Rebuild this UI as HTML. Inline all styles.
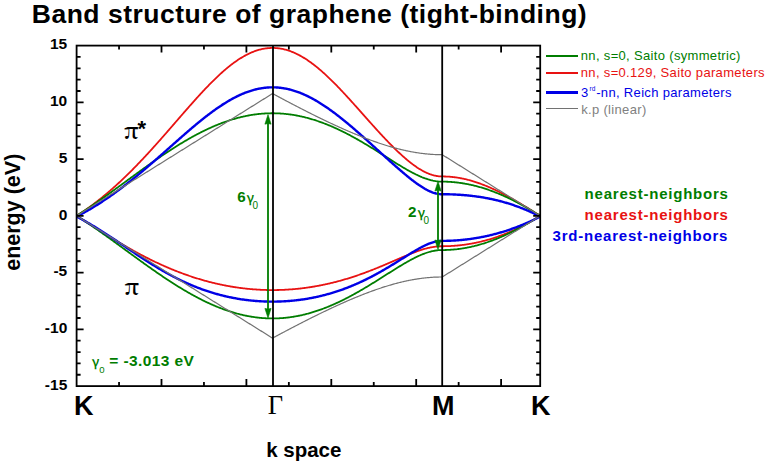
<!DOCTYPE html>
<html><head><meta charset="utf-8"><title>Band structure of graphene</title>
<style>html,body{margin:0;padding:0;background:#fff;width:769px;height:466px;overflow:hidden}svg{display:block}</style>
</head><body>
<svg width="769" height="466" viewBox="0 0 769 466">
<rect width="769" height="466" fill="#fff"/>
<text x="31.8" y="22.8" font-family="Liberation Sans, Arial, sans-serif" font-weight="bold" font-size="26.5" letter-spacing="0.5">Band structure of graphene (tight-binding)</text>
<g fill="none" stroke-linejoin="round">
<path d="M76.60,215.85 L77.37,215.36 L78.15,214.86 L78.92,214.36 L79.70,213.85 L80.47,213.34 L81.25,212.82 L82.02,212.30 L82.80,211.78 L83.57,211.25 L84.34,210.72 L85.12,210.19 L85.89,209.65 L86.67,209.10 L87.44,208.55 L88.22,208.00 L88.99,207.44 L89.77,206.88 L90.54,206.32 L91.31,205.75 L92.09,205.17 L92.86,204.60 L93.64,204.01 L94.41,203.43 L95.19,202.84 L95.96,202.24 L96.74,201.65 L97.51,201.04 L98.29,200.44 L99.06,199.83 L99.83,199.21 L100.61,198.59 L101.38,197.97 L102.16,197.34 L102.93,196.71 L103.71,196.07 L104.48,195.43 L105.26,194.79 L106.03,194.14 L106.80,193.49 L107.58,192.83 L108.35,192.17 L109.13,191.51 L109.90,190.84 L110.68,190.17 L111.45,189.49 L112.23,188.81 L113.00,188.13 L113.77,187.44 L114.55,186.74 L115.32,186.05 L116.10,185.35 L116.87,184.64 L117.65,183.94 L118.42,183.22 L119.20,182.51 L119.97,181.79 L120.74,181.06 L121.52,180.34 L122.29,179.61 L123.07,178.87 L123.84,178.13 L124.62,177.39 L125.39,176.64 L126.17,175.89 L126.94,175.14 L127.71,174.38 L128.49,173.62 L129.26,172.86 L130.04,172.09 L130.81,171.32 L131.59,170.55 L132.36,169.77 L133.14,168.99 L133.91,168.20 L134.69,167.41 L135.46,166.62 L136.23,165.83 L137.01,165.03 L137.78,164.23 L138.56,163.42 L139.33,162.61 L140.11,161.80 L140.88,160.99 L141.66,160.17 L142.43,159.35 L143.20,158.53 L143.98,157.70 L144.75,156.87 L145.53,156.04 L146.30,155.21 L147.08,154.37 L147.85,153.53 L148.63,152.69 L149.40,151.84 L150.17,151.00 L150.95,150.15 L151.72,149.29 L152.50,148.44 L153.27,147.58 L154.05,146.72 L154.82,145.86 L155.60,145.00 L156.37,144.13 L157.14,143.26 L157.92,142.40 L158.69,141.52 L159.47,140.65 L160.24,139.78 L161.02,138.90 L161.79,138.02 L162.57,137.14 L163.34,136.26 L164.11,135.38 L164.89,134.49 L165.66,133.61 L166.44,132.72 L167.21,131.84 L167.99,130.95 L168.76,130.06 L169.54,129.17 L170.31,128.28 L171.09,127.39 L171.86,126.49 L172.63,125.60 L173.41,124.71 L174.18,123.81 L174.96,122.92 L175.73,122.03 L176.51,121.13 L177.28,120.24 L178.06,119.35 L178.83,118.45 L179.60,117.56 L180.38,116.67 L181.15,115.78 L181.93,114.88 L182.70,113.99 L183.48,113.10 L184.25,112.21 L185.03,111.33 L185.80,110.44 L186.57,109.55 L187.35,108.67 L188.12,107.79 L188.90,106.91 L189.67,106.03 L190.45,105.15 L191.22,104.28 L192.00,103.40 L192.77,102.53 L193.54,101.66 L194.32,100.80 L195.09,99.93 L195.87,99.07 L196.64,98.21 L197.42,97.36 L198.19,96.51 L198.97,95.66 L199.74,94.81 L200.51,93.97 L201.29,93.13 L202.06,92.29 L202.84,91.46 L203.61,90.63 L204.39,89.81 L205.16,88.99 L205.94,88.18 L206.71,87.37 L207.49,86.56 L208.26,85.76 L209.03,84.96 L209.81,84.17 L210.58,83.38 L211.36,82.60 L212.13,81.83 L212.91,81.06 L213.68,80.29 L214.46,79.53 L215.23,78.78 L216.00,78.03 L216.78,77.29 L217.55,76.56 L218.33,75.83 L219.10,75.11 L219.88,74.39 L220.65,73.68 L221.43,72.98 L222.20,72.29 L222.97,71.60 L223.75,70.92 L224.52,70.25 L225.30,69.59 L226.07,68.93 L226.85,68.28 L227.62,67.64 L228.40,67.01 L229.17,66.39 L229.94,65.77 L230.72,65.16 L231.49,64.57 L232.27,63.98 L233.04,63.40 L233.82,62.82 L234.59,62.26 L235.37,61.71 L236.14,61.17 L236.91,60.63 L237.69,60.11 L238.46,59.59 L239.24,59.09 L240.01,58.59 L240.79,58.11 L241.56,57.63 L242.34,57.17 L243.11,56.71 L243.89,56.27 L244.66,55.84 L245.43,55.41 L246.21,55.00 L246.98,54.60 L247.76,54.21 L248.53,53.83 L249.31,53.46 L250.08,53.11 L250.86,52.76 L251.63,52.43 L252.40,52.11 L253.18,51.80 L253.95,51.50 L254.73,51.21 L255.50,50.93 L256.28,50.67 L257.05,50.42 L257.83,50.18 L258.60,49.95 L259.37,49.73 L260.15,49.53 L260.92,49.33 L261.70,49.15 L262.47,48.99 L263.25,48.83 L264.02,48.69 L264.80,48.56 L265.57,48.44 L266.34,48.33 L267.12,48.24 L267.89,48.16 L268.67,48.09 L269.44,48.03 L270.22,47.99 L270.99,47.96 L271.77,47.94 L272.54,47.93 L273.32,47.94 L274.09,47.96 L274.86,47.99 L275.64,48.03 L276.41,48.09 L277.19,48.16 L277.96,48.24 L278.74,48.33 L279.51,48.44 L280.29,48.56 L281.06,48.69 L281.84,48.83 L282.61,48.99 L283.39,49.16 L284.16,49.34 L284.94,49.53 L285.71,49.73 L286.49,49.95 L287.26,50.18 L288.04,50.42 L288.81,50.67 L289.59,50.94 L290.36,51.21 L291.14,51.50 L291.91,51.80 L292.69,52.11 L293.46,52.43 L294.24,52.77 L295.01,53.11 L295.79,53.47 L296.56,53.84 L297.34,54.22 L298.11,54.61 L298.88,55.01 L299.66,55.42 L300.43,55.84 L301.21,56.28 L301.98,56.72 L302.76,57.18 L303.53,57.64 L304.31,58.12 L305.08,58.60 L305.86,59.10 L306.63,59.60 L307.41,60.12 L308.18,60.64 L308.96,61.18 L309.73,61.72 L310.51,62.27 L311.28,62.84 L312.06,63.41 L312.83,63.99 L313.61,64.58 L314.38,65.18 L315.16,65.78 L315.93,66.40 L316.71,67.02 L317.48,67.65 L318.26,68.30 L319.03,68.94 L319.81,69.60 L320.58,70.26 L321.36,70.93 L322.13,71.61 L322.90,72.30 L323.68,72.99 L324.45,73.69 L325.23,74.40 L326.00,75.11 L326.78,75.83 L327.55,76.56 L328.33,77.30 L329.10,78.03 L329.88,78.78 L330.65,79.53 L331.43,80.29 L332.20,81.05 L332.98,81.82 L333.75,82.59 L334.53,83.37 L335.30,84.16 L336.08,84.95 L336.85,85.74 L337.63,86.54 L338.40,87.34 L339.18,88.15 L339.95,88.96 L340.73,89.78 L341.50,90.60 L342.28,91.42 L343.05,92.25 L343.83,93.08 L344.60,93.91 L345.38,94.75 L346.15,95.59 L346.92,96.43 L347.70,97.28 L348.47,98.12 L349.25,98.97 L350.02,99.83 L350.80,100.68 L351.57,101.54 L352.35,102.40 L353.12,103.26 L353.90,104.12 L354.67,104.99 L355.45,105.86 L356.22,106.72 L357.00,107.59 L357.77,108.46 L358.55,109.33 L359.32,110.20 L360.10,111.07 L360.87,111.95 L361.65,112.82 L362.42,113.69 L363.20,114.56 L363.97,115.44 L364.75,116.31 L365.52,117.18 L366.30,118.05 L367.07,118.93 L367.85,119.80 L368.62,120.67 L369.40,121.53 L370.17,122.40 L370.94,123.27 L371.72,124.13 L372.49,125.00 L373.27,125.86 L374.04,126.72 L374.82,127.58 L375.59,128.43 L376.37,129.29 L377.14,130.14 L377.92,130.99 L378.69,131.84 L379.47,132.68 L380.24,133.52 L381.02,134.36 L381.79,135.20 L382.57,136.03 L383.34,136.86 L384.12,137.68 L384.89,138.50 L385.67,139.32 L386.44,140.14 L387.22,140.95 L387.99,141.75 L388.77,142.55 L389.54,143.35 L390.32,144.14 L391.09,144.93 L391.87,145.72 L392.64,146.49 L393.42,147.27 L394.19,148.03 L394.96,148.80 L395.74,149.55 L396.51,150.30 L397.29,151.05 L398.06,151.78 L398.84,152.52 L399.61,153.24 L400.39,153.96 L401.16,154.67 L401.94,155.37 L402.71,156.07 L403.49,156.76 L404.26,157.44 L405.04,158.12 L405.81,158.78 L406.59,159.44 L407.36,160.09 L408.14,160.73 L408.91,161.36 L409.69,161.99 L410.46,162.60 L411.24,163.20 L412.01,163.80 L412.79,164.38 L413.56,164.95 L414.34,165.52 L415.11,166.07 L415.89,166.61 L416.66,167.14 L417.43,167.66 L418.21,168.16 L418.98,168.65 L419.76,169.14 L420.53,169.60 L421.31,170.06 L422.08,170.50 L422.86,170.93 L423.63,171.34 L424.41,171.74 L425.18,172.13 L425.96,172.50 L426.73,172.86 L427.51,173.20 L428.28,173.52 L429.06,173.83 L429.83,174.13 L430.61,174.40 L431.38,174.66 L432.16,174.91 L432.93,175.13 L433.71,175.34 L434.48,175.53 L435.26,175.71 L436.03,175.87 L436.81,176.00 L437.58,176.12 L438.36,176.23 L439.13,176.31 L439.91,176.37 L440.68,176.42 L441.45,176.45 L442.23,176.46 L443.01,176.46 L443.78,176.47 L444.56,176.49 L445.34,176.51 L446.12,176.54 L446.90,176.57 L447.67,176.61 L448.45,176.66 L449.23,176.71 L450.01,176.77 L450.78,176.83 L451.56,176.91 L452.34,176.98 L453.12,177.07 L453.89,177.16 L454.67,177.25 L455.45,177.36 L456.23,177.46 L457.00,177.58 L457.78,177.70 L458.56,177.83 L459.34,177.96 L460.11,178.10 L460.89,178.24 L461.67,178.39 L462.45,178.55 L463.22,178.71 L464.00,178.88 L464.78,179.05 L465.56,179.23 L466.33,179.41 L467.11,179.60 L467.89,179.80 L468.67,180.00 L469.44,180.21 L470.22,180.42 L471.00,180.64 L471.78,180.87 L472.55,181.10 L473.33,181.33 L474.11,181.57 L474.89,181.82 L475.66,182.07 L476.44,182.32 L477.22,182.58 L478.00,182.85 L478.77,183.12 L479.55,183.40 L480.33,183.68 L481.11,183.97 L481.88,184.26 L482.66,184.55 L483.44,184.85 L484.22,185.16 L484.99,185.47 L485.77,185.78 L486.55,186.10 L487.33,186.43 L488.10,186.76 L488.88,187.09 L489.66,187.43 L490.44,187.77 L491.21,188.11 L491.99,188.46 L492.77,188.82 L493.55,189.18 L494.33,189.54 L495.10,189.90 L495.88,190.27 L496.66,190.65 L497.44,191.02 L498.21,191.41 L498.99,191.79 L499.77,192.18 L500.55,192.57 L501.32,192.97 L502.10,193.37 L502.88,193.77 L503.66,194.17 L504.43,194.58 L505.21,194.99 L505.99,195.41 L506.77,195.83 L507.54,196.25 L508.32,196.67 L509.10,197.10 L509.88,197.53 L510.65,197.96 L511.43,198.40 L512.21,198.83 L512.99,199.27 L513.76,199.72 L514.54,200.16 L515.32,200.61 L516.10,201.06 L516.87,201.51 L517.65,201.97 L518.43,202.42 L519.21,202.88 L519.98,203.34 L520.76,203.81 L521.54,204.27 L522.32,204.74 L523.09,205.21 L523.87,205.68 L524.65,206.15 L525.43,206.62 L526.20,207.10 L526.98,207.57 L527.76,208.05 L528.54,208.53 L529.31,209.01 L530.09,209.49 L530.87,209.98 L531.65,210.46 L532.42,210.95 L533.20,211.43 L533.98,211.92 L534.76,212.41 L535.53,212.90 L536.31,213.39 L537.09,213.88 L537.87,214.37 L538.64,214.86 L539.42,215.36 L540.20,215.85 L540.20,215.85" stroke="#e81212" stroke-width="1.8"/>
<path d="M76.60,215.85 L77.37,216.34 L78.15,216.83 L78.92,217.33 L79.70,217.82 L80.47,218.32 L81.25,218.81 L82.02,219.30 L82.80,219.80 L83.57,220.29 L84.34,220.79 L85.12,221.28 L85.89,221.78 L86.67,222.27 L87.44,222.77 L88.22,223.26 L88.99,223.76 L89.77,224.25 L90.54,224.75 L91.31,225.24 L92.09,225.73 L92.86,226.23 L93.64,226.72 L94.41,227.21 L95.19,227.70 L95.96,228.19 L96.74,228.68 L97.51,229.17 L98.29,229.66 L99.06,230.15 L99.83,230.64 L100.61,231.13 L101.38,231.61 L102.16,232.10 L102.93,232.58 L103.71,233.07 L104.48,233.55 L105.26,234.03 L106.03,234.51 L106.80,234.99 L107.58,235.47 L108.35,235.95 L109.13,236.43 L109.90,236.90 L110.68,237.38 L111.45,237.85 L112.23,238.32 L113.00,238.79 L113.77,239.26 L114.55,239.73 L115.32,240.20 L116.10,240.66 L116.87,241.13 L117.65,241.59 L118.42,242.05 L119.20,242.51 L119.97,242.97 L120.74,243.42 L121.52,243.88 L122.29,244.33 L123.07,244.78 L123.84,245.23 L124.62,245.68 L125.39,246.13 L126.17,246.57 L126.94,247.02 L127.71,247.46 L128.49,247.90 L129.26,248.34 L130.04,248.77 L130.81,249.21 L131.59,249.64 L132.36,250.07 L133.14,250.50 L133.91,250.93 L134.69,251.36 L135.46,251.78 L136.23,252.20 L137.01,252.62 L137.78,253.04 L138.56,253.45 L139.33,253.87 L140.11,254.28 L140.88,254.69 L141.66,255.10 L142.43,255.50 L143.20,255.91 L143.98,256.31 L144.75,256.71 L145.53,257.10 L146.30,257.50 L147.08,257.89 L147.85,258.28 L148.63,258.67 L149.40,259.06 L150.17,259.44 L150.95,259.83 L151.72,260.21 L152.50,260.58 L153.27,260.96 L154.05,261.33 L154.82,261.71 L155.60,262.07 L156.37,262.44 L157.14,262.81 L157.92,263.17 L158.69,263.53 L159.47,263.89 L160.24,264.24 L161.02,264.60 L161.79,264.95 L162.57,265.29 L163.34,265.64 L164.11,265.99 L164.89,266.33 L165.66,266.67 L166.44,267.00 L167.21,267.34 L167.99,267.67 L168.76,268.00 L169.54,268.33 L170.31,268.65 L171.09,268.98 L171.86,269.30 L172.63,269.61 L173.41,269.93 L174.18,270.24 L174.96,270.55 L175.73,270.86 L176.51,271.17 L177.28,271.47 L178.06,271.77 L178.83,272.07 L179.60,272.37 L180.38,272.66 L181.15,272.95 L181.93,273.24 L182.70,273.53 L183.48,273.81 L184.25,274.10 L185.03,274.38 L185.80,274.65 L186.57,274.93 L187.35,275.20 L188.12,275.47 L188.90,275.74 L189.67,276.00 L190.45,276.26 L191.22,276.52 L192.00,276.78 L192.77,277.03 L193.54,277.29 L194.32,277.54 L195.09,277.78 L195.87,278.03 L196.64,278.27 L197.42,278.51 L198.19,278.75 L198.97,278.98 L199.74,279.22 L200.51,279.45 L201.29,279.67 L202.06,279.90 L202.84,280.12 L203.61,280.34 L204.39,280.56 L205.16,280.78 L205.94,280.99 L206.71,281.20 L207.49,281.41 L208.26,281.61 L209.03,281.82 L209.81,282.02 L210.58,282.21 L211.36,282.41 L212.13,282.60 L212.91,282.79 L213.68,282.98 L214.46,283.17 L215.23,283.35 L216.00,283.53 L216.78,283.71 L217.55,283.88 L218.33,284.06 L219.10,284.23 L219.88,284.40 L220.65,284.56 L221.43,284.73 L222.20,284.89 L222.97,285.04 L223.75,285.20 L224.52,285.35 L225.30,285.50 L226.07,285.65 L226.85,285.80 L227.62,285.94 L228.40,286.08 L229.17,286.22 L229.94,286.36 L230.72,286.49 L231.49,286.62 L232.27,286.75 L233.04,286.88 L233.82,287.00 L234.59,287.12 L235.37,287.24 L236.14,287.36 L236.91,287.47 L237.69,287.58 L238.46,287.69 L239.24,287.80 L240.01,287.90 L240.79,288.01 L241.56,288.11 L242.34,288.20 L243.11,288.30 L243.89,288.39 L244.66,288.48 L245.43,288.56 L246.21,288.65 L246.98,288.73 L247.76,288.81 L248.53,288.89 L249.31,288.96 L250.08,289.03 L250.86,289.10 L251.63,289.17 L252.40,289.24 L253.18,289.30 L253.95,289.36 L254.73,289.42 L255.50,289.47 L256.28,289.52 L257.05,289.57 L257.83,289.62 L258.60,289.67 L259.37,289.71 L260.15,289.75 L260.92,289.79 L261.70,289.82 L262.47,289.86 L263.25,289.89 L264.02,289.91 L264.80,289.94 L265.57,289.96 L266.34,289.98 L267.12,290.00 L267.89,290.02 L268.67,290.03 L269.44,290.04 L270.22,290.05 L270.99,290.06 L271.77,290.06 L272.54,290.06 L273.32,290.06 L274.09,290.06 L274.86,290.05 L275.64,290.04 L276.41,290.03 L277.19,290.02 L277.96,290.00 L278.74,289.98 L279.51,289.96 L280.29,289.94 L281.06,289.91 L281.84,289.89 L282.61,289.86 L283.39,289.82 L284.16,289.79 L284.94,289.75 L285.71,289.71 L286.49,289.67 L287.26,289.62 L288.04,289.57 L288.81,289.52 L289.59,289.47 L290.36,289.42 L291.14,289.36 L291.91,289.30 L292.69,289.24 L293.46,289.17 L294.24,289.10 L295.01,289.03 L295.79,288.96 L296.56,288.89 L297.34,288.81 L298.11,288.73 L298.88,288.65 L299.66,288.56 L300.43,288.48 L301.21,288.39 L301.98,288.29 L302.76,288.20 L303.53,288.10 L304.31,288.00 L305.08,287.90 L305.86,287.80 L306.63,287.69 L307.41,287.58 L308.18,287.47 L308.96,287.36 L309.73,287.24 L310.51,287.12 L311.28,287.00 L312.06,286.88 L312.83,286.75 L313.61,286.62 L314.38,286.49 L315.16,286.36 L315.93,286.22 L316.71,286.08 L317.48,285.94 L318.26,285.80 L319.03,285.65 L319.81,285.50 L320.58,285.35 L321.36,285.20 L322.13,285.04 L322.90,284.88 L323.68,284.72 L324.45,284.56 L325.23,284.39 L326.00,284.23 L326.78,284.06 L327.55,283.88 L328.33,283.71 L329.10,283.53 L329.88,283.35 L330.65,283.17 L331.43,282.98 L332.20,282.79 L332.98,282.60 L333.75,282.41 L334.53,282.22 L335.30,282.02 L336.08,281.82 L336.85,281.62 L337.63,281.41 L338.40,281.21 L339.18,281.00 L339.95,280.78 L340.73,280.57 L341.50,280.35 L342.28,280.13 L343.05,279.91 L343.83,279.69 L344.60,279.46 L345.38,279.23 L346.15,279.00 L346.92,278.77 L347.70,278.53 L348.47,278.30 L349.25,278.06 L350.02,277.81 L350.80,277.57 L351.57,277.32 L352.35,277.07 L353.12,276.82 L353.90,276.57 L354.67,276.31 L355.45,276.05 L356.22,275.79 L357.00,275.53 L357.77,275.26 L358.55,275.00 L359.32,274.73 L360.10,274.45 L360.87,274.18 L361.65,273.90 L362.42,273.63 L363.20,273.35 L363.97,273.06 L364.75,272.78 L365.52,272.49 L366.30,272.20 L367.07,271.91 L367.85,271.62 L368.62,271.33 L369.40,271.03 L370.17,270.73 L370.94,270.43 L371.72,270.13 L372.49,269.83 L373.27,269.52 L374.04,269.21 L374.82,268.91 L375.59,268.60 L376.37,268.28 L377.14,267.97 L377.92,267.65 L378.69,267.34 L379.47,267.02 L380.24,266.70 L381.02,266.38 L381.79,266.06 L382.57,265.73 L383.34,265.41 L384.12,265.08 L384.89,264.75 L385.67,264.43 L386.44,264.10 L387.22,263.77 L387.99,263.43 L388.77,263.10 L389.54,262.77 L390.32,262.44 L391.09,262.10 L391.87,261.77 L392.64,261.43 L393.42,261.10 L394.19,260.76 L394.96,260.43 L395.74,260.09 L396.51,259.76 L397.29,259.42 L398.06,259.09 L398.84,258.75 L399.61,258.42 L400.39,258.09 L401.16,257.75 L401.94,257.42 L402.71,257.09 L403.49,256.76 L404.26,256.43 L405.04,256.11 L405.81,255.78 L406.59,255.46 L407.36,255.14 L408.14,254.82 L408.91,254.50 L409.69,254.19 L410.46,253.87 L411.24,253.57 L412.01,253.26 L412.79,252.96 L413.56,252.66 L414.34,252.36 L415.11,252.07 L415.89,251.79 L416.66,251.50 L417.43,251.22 L418.21,250.95 L418.98,250.68 L419.76,250.42 L420.53,250.16 L421.31,249.91 L422.08,249.67 L422.86,249.43 L423.63,249.20 L424.41,248.97 L425.18,248.75 L425.96,248.54 L426.73,248.34 L427.51,248.14 L428.28,247.96 L429.06,247.78 L429.83,247.61 L430.61,247.45 L431.38,247.30 L432.16,247.15 L432.93,247.02 L433.71,246.90 L434.48,246.79 L435.26,246.68 L436.03,246.59 L436.81,246.51 L437.58,246.44 L438.36,246.38 L439.13,246.33 L439.91,246.29 L440.68,246.26 L441.45,246.25 L442.23,246.24 L443.01,246.24 L443.78,246.23 L444.56,246.22 L445.34,246.21 L446.12,246.19 L446.90,246.17 L447.67,246.15 L448.45,246.12 L449.23,246.09 L450.01,246.05 L450.78,246.02 L451.56,245.97 L452.34,245.93 L453.12,245.88 L453.89,245.82 L454.67,245.76 L455.45,245.70 L456.23,245.64 L457.00,245.57 L457.78,245.50 L458.56,245.42 L459.34,245.34 L460.11,245.26 L460.89,245.17 L461.67,245.08 L462.45,244.98 L463.22,244.88 L464.00,244.78 L464.78,244.67 L465.56,244.56 L466.33,244.45 L467.11,244.33 L467.89,244.21 L468.67,244.09 L469.44,243.96 L470.22,243.82 L471.00,243.69 L471.78,243.55 L472.55,243.40 L473.33,243.26 L474.11,243.10 L474.89,242.95 L475.66,242.79 L476.44,242.63 L477.22,242.46 L478.00,242.29 L478.77,242.11 L479.55,241.94 L480.33,241.75 L481.11,241.57 L481.88,241.38 L482.66,241.18 L483.44,240.99 L484.22,240.79 L484.99,240.58 L485.77,240.37 L486.55,240.16 L487.33,239.94 L488.10,239.72 L488.88,239.50 L489.66,239.27 L490.44,239.04 L491.21,238.80 L491.99,238.56 L492.77,238.32 L493.55,238.07 L494.33,237.82 L495.10,237.56 L495.88,237.30 L496.66,237.04 L497.44,236.77 L498.21,236.50 L498.99,236.22 L499.77,235.94 L500.55,235.66 L501.32,235.37 L502.10,235.08 L502.88,234.79 L503.66,234.49 L504.43,234.19 L505.21,233.88 L505.99,233.57 L506.77,233.25 L507.54,232.93 L508.32,232.61 L509.10,232.28 L509.88,231.95 L510.65,231.62 L511.43,231.28 L512.21,230.94 L512.99,230.59 L513.76,230.24 L514.54,229.88 L515.32,229.52 L516.10,229.16 L516.87,228.79 L517.65,228.42 L518.43,228.04 L519.21,227.66 L519.98,227.28 L520.76,226.89 L521.54,226.50 L522.32,226.10 L523.09,225.70 L523.87,225.30 L524.65,224.89 L525.43,224.48 L526.20,224.06 L526.98,223.64 L527.76,223.22 L528.54,222.79 L529.31,222.35 L530.09,221.92 L530.87,221.48 L531.65,221.03 L532.42,220.58 L533.20,220.13 L533.98,219.67 L534.76,219.20 L535.53,218.74 L536.31,218.27 L537.09,217.79 L537.87,217.31 L538.64,216.83 L539.42,216.34 L540.20,215.85 L540.20,215.85" stroke="#e81212" stroke-width="1.8"/>
<path d="M76.60,215.85 L77.37,215.36 L78.15,214.86 L78.92,214.37 L79.70,213.87 L80.47,213.37 L81.25,212.87 L82.02,212.36 L82.80,211.86 L83.57,211.35 L84.34,210.84 L85.12,210.32 L85.89,209.81 L86.67,209.29 L87.44,208.77 L88.22,208.25 L88.99,207.73 L89.77,207.20 L90.54,206.68 L91.31,206.15 L92.09,205.62 L92.86,205.09 L93.64,204.56 L94.41,204.02 L95.19,203.49 L95.96,202.95 L96.74,202.41 L97.51,201.87 L98.29,201.33 L99.06,200.79 L99.83,200.24 L100.61,199.70 L101.38,199.15 L102.16,198.60 L102.93,198.05 L103.71,197.50 L104.48,196.95 L105.26,196.40 L106.03,195.84 L106.80,195.29 L107.58,194.74 L108.35,194.18 L109.13,193.62 L109.90,193.06 L110.68,192.51 L111.45,191.95 L112.23,191.39 L113.00,190.83 L113.77,190.26 L114.55,189.70 L115.32,189.14 L116.10,188.58 L116.87,188.01 L117.65,187.45 L118.42,186.88 L119.20,186.32 L119.97,185.75 L120.74,185.19 L121.52,184.62 L122.29,184.06 L123.07,183.49 L123.84,182.93 L124.62,182.36 L125.39,181.79 L126.17,181.23 L126.94,180.66 L127.71,180.10 L128.49,179.53 L129.26,178.96 L130.04,178.40 L130.81,177.83 L131.59,177.27 L132.36,176.70 L133.14,176.14 L133.91,175.57 L134.69,175.01 L135.46,174.45 L136.23,173.88 L137.01,173.32 L137.78,172.76 L138.56,172.20 L139.33,171.64 L140.11,171.08 L140.88,170.52 L141.66,169.96 L142.43,169.40 L143.20,168.85 L143.98,168.29 L144.75,167.74 L145.53,167.18 L146.30,166.63 L147.08,166.08 L147.85,165.53 L148.63,164.98 L149.40,164.43 L150.17,163.88 L150.95,163.34 L151.72,162.79 L152.50,162.25 L153.27,161.71 L154.05,161.16 L154.82,160.62 L155.60,160.09 L156.37,159.55 L157.14,159.02 L157.92,158.48 L158.69,157.95 L159.47,157.42 L160.24,156.89 L161.02,156.36 L161.79,155.84 L162.57,155.32 L163.34,154.79 L164.11,154.27 L164.89,153.76 L165.66,153.24 L166.44,152.73 L167.21,152.21 L167.99,151.70 L168.76,151.20 L169.54,150.69 L170.31,150.19 L171.09,149.68 L171.86,149.19 L172.63,148.69 L173.41,148.19 L174.18,147.70 L174.96,147.21 L175.73,146.72 L176.51,146.24 L177.28,145.75 L178.06,145.27 L178.83,144.79 L179.60,144.32 L180.38,143.85 L181.15,143.38 L181.93,142.91 L182.70,142.44 L183.48,141.98 L184.25,141.52 L185.03,141.06 L185.80,140.61 L186.57,140.16 L187.35,139.71 L188.12,139.26 L188.90,138.82 L189.67,138.38 L190.45,137.94 L191.22,137.51 L192.00,137.08 L192.77,136.65 L193.54,136.22 L194.32,135.80 L195.09,135.38 L195.87,134.97 L196.64,134.56 L197.42,134.15 L198.19,133.74 L198.97,133.34 L199.74,132.94 L200.51,132.54 L201.29,132.15 L202.06,131.76 L202.84,131.38 L203.61,131.00 L204.39,130.62 L205.16,130.24 L205.94,129.87 L206.71,129.50 L207.49,129.14 L208.26,128.78 L209.03,128.42 L209.81,128.07 L210.58,127.72 L211.36,127.37 L212.13,127.03 L212.91,126.69 L213.68,126.35 L214.46,126.02 L215.23,125.69 L216.00,125.37 L216.78,125.05 L217.55,124.73 L218.33,124.42 L219.10,124.11 L219.88,123.81 L220.65,123.51 L221.43,123.21 L222.20,122.92 L222.97,122.63 L223.75,122.35 L224.52,122.07 L225.30,121.79 L226.07,121.52 L226.85,121.25 L227.62,120.99 L228.40,120.73 L229.17,120.48 L229.94,120.22 L230.72,119.98 L231.49,119.74 L232.27,119.50 L233.04,119.26 L233.82,119.03 L234.59,118.81 L235.37,118.59 L236.14,118.37 L236.91,118.16 L237.69,117.95 L238.46,117.74 L239.24,117.54 L240.01,117.35 L240.79,117.16 L241.56,116.97 L242.34,116.79 L243.11,116.61 L243.89,116.44 L244.66,116.27 L245.43,116.11 L246.21,115.95 L246.98,115.79 L247.76,115.64 L248.53,115.50 L249.31,115.36 L250.08,115.22 L250.86,115.09 L251.63,114.96 L252.40,114.84 L253.18,114.72 L253.95,114.60 L254.73,114.49 L255.50,114.39 L256.28,114.29 L257.05,114.19 L257.83,114.10 L258.60,114.02 L259.37,113.93 L260.15,113.86 L260.92,113.78 L261.70,113.72 L262.47,113.65 L263.25,113.59 L264.02,113.54 L264.80,113.49 L265.57,113.45 L266.34,113.41 L267.12,113.37 L267.89,113.34 L268.67,113.32 L269.44,113.29 L270.22,113.28 L270.99,113.27 L271.77,113.26 L272.54,113.26 L273.32,113.26 L274.09,113.27 L274.86,113.28 L275.64,113.29 L276.41,113.32 L277.19,113.34 L277.96,113.37 L278.74,113.41 L279.51,113.45 L280.29,113.49 L281.06,113.54 L281.84,113.59 L282.61,113.65 L283.39,113.72 L284.16,113.78 L284.94,113.86 L285.71,113.93 L286.49,114.02 L287.26,114.10 L288.04,114.19 L288.81,114.29 L289.59,114.39 L290.36,114.49 L291.14,114.60 L291.91,114.72 L292.69,114.84 L293.46,114.96 L294.24,115.09 L295.01,115.22 L295.79,115.36 L296.56,115.50 L297.34,115.65 L298.11,115.80 L298.88,115.95 L299.66,116.11 L300.43,116.27 L301.21,116.44 L301.98,116.62 L302.76,116.79 L303.53,116.98 L304.31,117.16 L305.08,117.35 L305.86,117.55 L306.63,117.75 L307.41,117.95 L308.18,118.16 L308.96,118.37 L309.73,118.59 L310.51,118.81 L311.28,119.04 L312.06,119.27 L312.83,119.50 L313.61,119.74 L314.38,119.98 L315.16,120.23 L315.93,120.48 L316.71,120.74 L317.48,121.00 L318.26,121.26 L319.03,121.53 L319.81,121.80 L320.58,122.07 L321.36,122.35 L322.13,122.64 L322.90,122.93 L323.68,123.22 L324.45,123.51 L325.23,123.81 L326.00,124.12 L326.78,124.43 L327.55,124.74 L328.33,125.05 L329.10,125.37 L329.88,125.69 L330.65,126.02 L331.43,126.35 L332.20,126.69 L332.98,127.02 L333.75,127.37 L334.53,127.71 L335.30,128.06 L336.08,128.41 L336.85,128.77 L337.63,129.13 L338.40,129.49 L339.18,129.86 L339.95,130.23 L340.73,130.60 L341.50,130.98 L342.28,131.36 L343.05,131.74 L343.83,132.13 L344.60,132.52 L345.38,132.91 L346.15,133.31 L346.92,133.71 L347.70,134.11 L348.47,134.51 L349.25,134.92 L350.02,135.33 L350.80,135.75 L351.57,136.17 L352.35,136.59 L353.12,137.01 L353.90,137.43 L354.67,137.86 L355.45,138.29 L356.22,138.73 L357.00,139.16 L357.77,139.60 L358.55,140.04 L359.32,140.49 L360.10,140.93 L360.87,141.38 L361.65,141.83 L362.42,142.28 L363.20,142.74 L363.97,143.20 L364.75,143.66 L365.52,144.12 L366.30,144.58 L367.07,145.05 L367.85,145.51 L368.62,145.98 L369.40,146.45 L370.17,146.93 L370.94,147.40 L371.72,147.88 L372.49,148.35 L373.27,148.83 L374.04,149.31 L374.82,149.79 L375.59,150.27 L376.37,150.76 L377.14,151.24 L377.92,151.73 L378.69,152.21 L379.47,152.70 L380.24,153.19 L381.02,153.68 L381.79,154.17 L382.57,154.66 L383.34,155.15 L384.12,155.64 L384.89,156.13 L385.67,156.62 L386.44,157.11 L387.22,157.60 L387.99,158.09 L388.77,158.58 L389.54,159.07 L390.32,159.56 L391.09,160.05 L391.87,160.53 L392.64,161.02 L393.42,161.51 L394.19,161.99 L394.96,162.47 L395.74,162.96 L396.51,163.44 L397.29,163.91 L398.06,164.39 L398.84,164.87 L399.61,165.34 L400.39,165.81 L401.16,166.28 L401.94,166.74 L402.71,167.20 L403.49,167.66 L404.26,168.12 L405.04,168.57 L405.81,169.02 L406.59,169.47 L407.36,169.91 L408.14,170.34 L408.91,170.78 L409.69,171.21 L410.46,171.63 L411.24,172.05 L412.01,172.46 L412.79,172.87 L413.56,173.27 L414.34,173.67 L415.11,174.06 L415.89,174.44 L416.66,174.81 L417.43,175.18 L418.21,175.55 L418.98,175.90 L419.76,176.25 L420.53,176.58 L421.31,176.91 L422.08,177.24 L422.86,177.55 L423.63,177.85 L424.41,178.14 L425.18,178.43 L425.96,178.70 L426.73,178.96 L427.51,179.21 L428.28,179.46 L429.06,179.69 L429.83,179.90 L430.61,180.11 L431.38,180.30 L432.16,180.49 L432.93,180.66 L433.71,180.81 L434.48,180.96 L435.26,181.09 L436.03,181.21 L436.81,181.31 L437.58,181.40 L438.36,181.48 L439.13,181.54 L439.91,181.59 L440.68,181.62 L441.45,181.65 L442.23,181.65 L443.01,181.65 L443.78,181.66 L444.56,181.67 L445.34,181.69 L446.12,181.71 L446.90,181.74 L447.67,181.77 L448.45,181.80 L449.23,181.84 L450.01,181.89 L450.78,181.94 L451.56,181.99 L452.34,182.05 L453.12,182.11 L453.89,182.18 L454.67,182.26 L455.45,182.33 L456.23,182.42 L457.00,182.50 L457.78,182.60 L458.56,182.69 L459.34,182.79 L460.11,182.90 L460.89,183.01 L461.67,183.12 L462.45,183.24 L463.22,183.37 L464.00,183.50 L464.78,183.63 L465.56,183.77 L466.33,183.91 L467.11,184.06 L467.89,184.21 L468.67,184.36 L469.44,184.53 L470.22,184.69 L471.00,184.86 L471.78,185.04 L472.55,185.21 L473.33,185.40 L474.11,185.58 L474.89,185.78 L475.66,185.97 L476.44,186.17 L477.22,186.38 L478.00,186.59 L478.77,186.80 L479.55,187.02 L480.33,187.25 L481.11,187.47 L481.88,187.71 L482.66,187.94 L483.44,188.18 L484.22,188.43 L484.99,188.67 L485.77,188.93 L486.55,189.18 L487.33,189.45 L488.10,189.71 L488.88,189.98 L489.66,190.26 L490.44,190.53 L491.21,190.82 L491.99,191.10 L492.77,191.39 L493.55,191.69 L494.33,191.99 L495.10,192.29 L495.88,192.59 L496.66,192.90 L497.44,193.22 L498.21,193.54 L498.99,193.86 L499.77,194.19 L500.55,194.51 L501.32,194.85 L502.10,195.19 L502.88,195.53 L503.66,195.87 L504.43,196.22 L505.21,196.57 L505.99,196.93 L506.77,197.29 L507.54,197.65 L508.32,198.02 L509.10,198.39 L509.88,198.77 L510.65,199.14 L511.43,199.53 L512.21,199.91 L512.99,200.30 L513.76,200.69 L514.54,201.09 L515.32,201.48 L516.10,201.89 L516.87,202.29 L517.65,202.70 L518.43,203.11 L519.21,203.53 L519.98,203.95 L520.76,204.37 L521.54,204.79 L522.32,205.22 L523.09,205.65 L523.87,206.08 L524.65,206.52 L525.43,206.96 L526.20,207.40 L526.98,207.85 L527.76,208.30 L528.54,208.75 L529.31,209.20 L530.09,209.66 L530.87,210.12 L531.65,210.59 L532.42,211.05 L533.20,211.52 L533.98,211.99 L534.76,212.46 L535.53,212.94 L536.31,213.42 L537.09,213.90 L537.87,214.38 L538.64,214.87 L539.42,215.36 L540.20,215.85 L540.20,215.85" stroke="#007d00" stroke-width="1.8"/>
<path d="M76.60,215.85 L77.37,216.34 L78.15,216.84 L78.92,217.33 L79.70,217.83 L80.47,218.33 L81.25,218.83 L82.02,219.34 L82.80,219.84 L83.57,220.35 L84.34,220.86 L85.12,221.38 L85.89,221.89 L86.67,222.41 L87.44,222.93 L88.22,223.45 L88.99,223.97 L89.77,224.50 L90.54,225.02 L91.31,225.55 L92.09,226.08 L92.86,226.61 L93.64,227.14 L94.41,227.68 L95.19,228.21 L95.96,228.75 L96.74,229.29 L97.51,229.83 L98.29,230.37 L99.06,230.91 L99.83,231.46 L100.61,232.00 L101.38,232.55 L102.16,233.10 L102.93,233.65 L103.71,234.20 L104.48,234.75 L105.26,235.30 L106.03,235.86 L106.80,236.41 L107.58,236.96 L108.35,237.52 L109.13,238.08 L109.90,238.64 L110.68,239.19 L111.45,239.75 L112.23,240.31 L113.00,240.87 L113.77,241.44 L114.55,242.00 L115.32,242.56 L116.10,243.12 L116.87,243.69 L117.65,244.25 L118.42,244.82 L119.20,245.38 L119.97,245.95 L120.74,246.51 L121.52,247.08 L122.29,247.64 L123.07,248.21 L123.84,248.77 L124.62,249.34 L125.39,249.91 L126.17,250.47 L126.94,251.04 L127.71,251.60 L128.49,252.17 L129.26,252.74 L130.04,253.30 L130.81,253.87 L131.59,254.43 L132.36,255.00 L133.14,255.56 L133.91,256.13 L134.69,256.69 L135.46,257.25 L136.23,257.82 L137.01,258.38 L137.78,258.94 L138.56,259.50 L139.33,260.06 L140.11,260.62 L140.88,261.18 L141.66,261.74 L142.43,262.30 L143.20,262.85 L143.98,263.41 L144.75,263.96 L145.53,264.52 L146.30,265.07 L147.08,265.62 L147.85,266.17 L148.63,266.72 L149.40,267.27 L150.17,267.82 L150.95,268.36 L151.72,268.91 L152.50,269.45 L153.27,269.99 L154.05,270.54 L154.82,271.08 L155.60,271.61 L156.37,272.15 L157.14,272.68 L157.92,273.22 L158.69,273.75 L159.47,274.28 L160.24,274.81 L161.02,275.34 L161.79,275.86 L162.57,276.38 L163.34,276.91 L164.11,277.43 L164.89,277.94 L165.66,278.46 L166.44,278.97 L167.21,279.49 L167.99,280.00 L168.76,280.50 L169.54,281.01 L170.31,281.51 L171.09,282.02 L171.86,282.51 L172.63,283.01 L173.41,283.51 L174.18,284.00 L174.96,284.49 L175.73,284.98 L176.51,285.46 L177.28,285.95 L178.06,286.43 L178.83,286.91 L179.60,287.38 L180.38,287.85 L181.15,288.32 L181.93,288.79 L182.70,289.26 L183.48,289.72 L184.25,290.18 L185.03,290.64 L185.80,291.09 L186.57,291.54 L187.35,291.99 L188.12,292.44 L188.90,292.88 L189.67,293.32 L190.45,293.76 L191.22,294.19 L192.00,294.62 L192.77,295.05 L193.54,295.48 L194.32,295.90 L195.09,296.32 L195.87,296.73 L196.64,297.14 L197.42,297.55 L198.19,297.96 L198.97,298.36 L199.74,298.76 L200.51,299.16 L201.29,299.55 L202.06,299.94 L202.84,300.32 L203.61,300.70 L204.39,301.08 L205.16,301.46 L205.94,301.83 L206.71,302.20 L207.49,302.56 L208.26,302.92 L209.03,303.28 L209.81,303.63 L210.58,303.98 L211.36,304.33 L212.13,304.67 L212.91,305.01 L213.68,305.35 L214.46,305.68 L215.23,306.01 L216.00,306.33 L216.78,306.65 L217.55,306.97 L218.33,307.28 L219.10,307.59 L219.88,307.89 L220.65,308.19 L221.43,308.49 L222.20,308.78 L222.97,309.07 L223.75,309.35 L224.52,309.63 L225.30,309.91 L226.07,310.18 L226.85,310.45 L227.62,310.71 L228.40,310.97 L229.17,311.22 L229.94,311.48 L230.72,311.72 L231.49,311.96 L232.27,312.20 L233.04,312.44 L233.82,312.67 L234.59,312.89 L235.37,313.11 L236.14,313.33 L236.91,313.54 L237.69,313.75 L238.46,313.96 L239.24,314.16 L240.01,314.35 L240.79,314.54 L241.56,314.73 L242.34,314.91 L243.11,315.09 L243.89,315.26 L244.66,315.43 L245.43,315.59 L246.21,315.75 L246.98,315.91 L247.76,316.06 L248.53,316.20 L249.31,316.34 L250.08,316.48 L250.86,316.61 L251.63,316.74 L252.40,316.86 L253.18,316.98 L253.95,317.10 L254.73,317.21 L255.50,317.31 L256.28,317.41 L257.05,317.51 L257.83,317.60 L258.60,317.68 L259.37,317.77 L260.15,317.84 L260.92,317.92 L261.70,317.98 L262.47,318.05 L263.25,318.11 L264.02,318.16 L264.80,318.21 L265.57,318.25 L266.34,318.29 L267.12,318.33 L267.89,318.36 L268.67,318.38 L269.44,318.41 L270.22,318.42 L270.99,318.43 L271.77,318.44 L272.54,318.44 L273.32,318.44 L274.09,318.43 L274.86,318.42 L275.64,318.41 L276.41,318.38 L277.19,318.36 L277.96,318.33 L278.74,318.29 L279.51,318.25 L280.29,318.21 L281.06,318.16 L281.84,318.11 L282.61,318.05 L283.39,317.98 L284.16,317.92 L284.94,317.84 L285.71,317.77 L286.49,317.68 L287.26,317.60 L288.04,317.51 L288.81,317.41 L289.59,317.31 L290.36,317.21 L291.14,317.10 L291.91,316.98 L292.69,316.86 L293.46,316.74 L294.24,316.61 L295.01,316.48 L295.79,316.34 L296.56,316.20 L297.34,316.05 L298.11,315.90 L298.88,315.75 L299.66,315.59 L300.43,315.43 L301.21,315.26 L301.98,315.08 L302.76,314.91 L303.53,314.72 L304.31,314.54 L305.08,314.35 L305.86,314.15 L306.63,313.95 L307.41,313.75 L308.18,313.54 L308.96,313.33 L309.73,313.11 L310.51,312.89 L311.28,312.66 L312.06,312.43 L312.83,312.20 L313.61,311.96 L314.38,311.72 L315.16,311.47 L315.93,311.22 L316.71,310.96 L317.48,310.70 L318.26,310.44 L319.03,310.17 L319.81,309.90 L320.58,309.63 L321.36,309.35 L322.13,309.06 L322.90,308.77 L323.68,308.48 L324.45,308.19 L325.23,307.89 L326.00,307.58 L326.78,307.27 L327.55,306.96 L328.33,306.65 L329.10,306.33 L329.88,306.01 L330.65,305.68 L331.43,305.35 L332.20,305.01 L332.98,304.68 L333.75,304.33 L334.53,303.99 L335.30,303.64 L336.08,303.29 L336.85,302.93 L337.63,302.57 L338.40,302.21 L339.18,301.84 L339.95,301.47 L340.73,301.10 L341.50,300.72 L342.28,300.34 L343.05,299.96 L343.83,299.57 L344.60,299.18 L345.38,298.79 L346.15,298.39 L346.92,297.99 L347.70,297.59 L348.47,297.19 L349.25,296.78 L350.02,296.37 L350.80,295.95 L351.57,295.53 L352.35,295.11 L353.12,294.69 L353.90,294.27 L354.67,293.84 L355.45,293.41 L356.22,292.97 L357.00,292.54 L357.77,292.10 L358.55,291.66 L359.32,291.21 L360.10,290.77 L360.87,290.32 L361.65,289.87 L362.42,289.42 L363.20,288.96 L363.97,288.50 L364.75,288.04 L365.52,287.58 L366.30,287.12 L367.07,286.65 L367.85,286.19 L368.62,285.72 L369.40,285.25 L370.17,284.77 L370.94,284.30 L371.72,283.82 L372.49,283.35 L373.27,282.87 L374.04,282.39 L374.82,281.91 L375.59,281.43 L376.37,280.94 L377.14,280.46 L377.92,279.97 L378.69,279.49 L379.47,279.00 L380.24,278.51 L381.02,278.02 L381.79,277.53 L382.57,277.04 L383.34,276.55 L384.12,276.06 L384.89,275.57 L385.67,275.08 L386.44,274.59 L387.22,274.10 L387.99,273.61 L388.77,273.12 L389.54,272.63 L390.32,272.14 L391.09,271.65 L391.87,271.17 L392.64,270.68 L393.42,270.19 L394.19,269.71 L394.96,269.23 L395.74,268.74 L396.51,268.26 L397.29,267.79 L398.06,267.31 L398.84,266.83 L399.61,266.36 L400.39,265.89 L401.16,265.42 L401.94,264.96 L402.71,264.50 L403.49,264.04 L404.26,263.58 L405.04,263.13 L405.81,262.68 L406.59,262.23 L407.36,261.79 L408.14,261.36 L408.91,260.92 L409.69,260.49 L410.46,260.07 L411.24,259.65 L412.01,259.24 L412.79,258.83 L413.56,258.43 L414.34,258.03 L415.11,257.64 L415.89,257.26 L416.66,256.89 L417.43,256.52 L418.21,256.15 L418.98,255.80 L419.76,255.45 L420.53,255.12 L421.31,254.79 L422.08,254.46 L422.86,254.15 L423.63,253.85 L424.41,253.56 L425.18,253.27 L425.96,253.00 L426.73,252.74 L427.51,252.49 L428.28,252.24 L429.06,252.01 L429.83,251.80 L430.61,251.59 L431.38,251.40 L432.16,251.21 L432.93,251.04 L433.71,250.89 L434.48,250.74 L435.26,250.61 L436.03,250.49 L436.81,250.39 L437.58,250.30 L438.36,250.22 L439.13,250.16 L439.91,250.11 L440.68,250.08 L441.45,250.05 L442.23,250.05 L443.01,250.05 L443.78,250.04 L444.56,250.03 L445.34,250.01 L446.12,249.99 L446.90,249.96 L447.67,249.93 L448.45,249.90 L449.23,249.86 L450.01,249.81 L450.78,249.76 L451.56,249.71 L452.34,249.65 L453.12,249.59 L453.89,249.52 L454.67,249.44 L455.45,249.37 L456.23,249.28 L457.00,249.20 L457.78,249.10 L458.56,249.01 L459.34,248.91 L460.11,248.80 L460.89,248.69 L461.67,248.58 L462.45,248.46 L463.22,248.33 L464.00,248.20 L464.78,248.07 L465.56,247.93 L466.33,247.79 L467.11,247.64 L467.89,247.49 L468.67,247.34 L469.44,247.17 L470.22,247.01 L471.00,246.84 L471.78,246.66 L472.55,246.49 L473.33,246.30 L474.11,246.12 L474.89,245.92 L475.66,245.73 L476.44,245.53 L477.22,245.32 L478.00,245.11 L478.77,244.90 L479.55,244.68 L480.33,244.45 L481.11,244.23 L481.88,243.99 L482.66,243.76 L483.44,243.52 L484.22,243.27 L484.99,243.03 L485.77,242.77 L486.55,242.52 L487.33,242.25 L488.10,241.99 L488.88,241.72 L489.66,241.44 L490.44,241.17 L491.21,240.88 L491.99,240.60 L492.77,240.31 L493.55,240.01 L494.33,239.71 L495.10,239.41 L495.88,239.11 L496.66,238.80 L497.44,238.48 L498.21,238.16 L498.99,237.84 L499.77,237.51 L500.55,237.19 L501.32,236.85 L502.10,236.51 L502.88,236.17 L503.66,235.83 L504.43,235.48 L505.21,235.13 L505.99,234.77 L506.77,234.41 L507.54,234.05 L508.32,233.68 L509.10,233.31 L509.88,232.93 L510.65,232.56 L511.43,232.17 L512.21,231.79 L512.99,231.40 L513.76,231.01 L514.54,230.61 L515.32,230.22 L516.10,229.81 L516.87,229.41 L517.65,229.00 L518.43,228.59 L519.21,228.17 L519.98,227.75 L520.76,227.33 L521.54,226.91 L522.32,226.48 L523.09,226.05 L523.87,225.62 L524.65,225.18 L525.43,224.74 L526.20,224.30 L526.98,223.85 L527.76,223.40 L528.54,222.95 L529.31,222.50 L530.09,222.04 L530.87,221.58 L531.65,221.11 L532.42,220.65 L533.20,220.18 L533.98,219.71 L534.76,219.24 L535.53,218.76 L536.31,218.28 L537.09,217.80 L537.87,217.32 L538.64,216.83 L539.42,216.34 L540.20,215.85 L540.20,215.85" stroke="#007d00" stroke-width="1.8"/>
<path d="M76.60,216.58 L77.37,216.18 L78.15,215.78 L78.92,215.38 L79.70,214.97 L80.47,214.55 L81.25,214.14 L82.02,213.72 L82.80,213.30 L83.57,212.87 L84.34,212.44 L85.12,212.01 L85.89,211.57 L86.67,211.13 L87.44,210.69 L88.22,210.24 L88.99,209.79 L89.77,209.34 L90.54,208.88 L91.31,208.42 L92.09,207.96 L92.86,207.49 L93.64,207.02 L94.41,206.55 L95.19,206.07 L95.96,205.59 L96.74,205.11 L97.51,204.62 L98.29,204.13 L99.06,203.64 L99.83,203.14 L100.61,202.64 L101.38,202.14 L102.16,201.63 L102.93,201.12 L103.71,200.61 L104.48,200.09 L105.26,199.57 L106.03,199.05 L106.80,198.52 L107.58,197.99 L108.35,197.46 L109.13,196.92 L109.90,196.39 L110.68,195.84 L111.45,195.30 L112.23,194.75 L113.00,194.20 L113.77,193.65 L114.55,193.09 L115.32,192.53 L116.10,191.97 L116.87,191.40 L117.65,190.83 L118.42,190.26 L119.20,189.68 L119.97,189.11 L120.74,188.53 L121.52,187.94 L122.29,187.36 L123.07,186.77 L123.84,186.17 L124.62,185.58 L125.39,184.98 L126.17,184.38 L126.94,183.78 L127.71,183.17 L128.49,182.57 L129.26,181.96 L130.04,181.34 L130.81,180.73 L131.59,180.11 L132.36,179.49 L133.14,178.86 L133.91,178.24 L134.69,177.61 L135.46,176.98 L136.23,176.35 L137.01,175.71 L137.78,175.08 L138.56,174.44 L139.33,173.80 L140.11,173.15 L140.88,172.51 L141.66,171.86 L142.43,171.21 L143.20,170.56 L143.98,169.91 L144.75,169.25 L145.53,168.59 L146.30,167.93 L147.08,167.27 L147.85,166.61 L148.63,165.95 L149.40,165.28 L150.17,164.62 L150.95,163.95 L151.72,163.28 L152.50,162.61 L153.27,161.93 L154.05,161.26 L154.82,160.58 L155.60,159.91 L156.37,159.23 L157.14,158.55 L157.92,157.87 L158.69,157.19 L159.47,156.51 L160.24,155.83 L161.02,155.14 L161.79,154.46 L162.57,153.78 L163.34,153.09 L164.11,152.41 L164.89,151.72 L165.66,151.03 L166.44,150.35 L167.21,149.66 L167.99,148.97 L168.76,148.28 L169.54,147.60 L170.31,146.91 L171.09,146.22 L171.86,145.53 L172.63,144.85 L173.41,144.16 L174.18,143.47 L174.96,142.79 L175.73,142.10 L176.51,141.41 L177.28,140.73 L178.06,140.05 L178.83,139.36 L179.60,138.68 L180.38,138.00 L181.15,137.32 L181.93,136.64 L182.70,135.96 L183.48,135.28 L184.25,134.61 L185.03,133.93 L185.80,133.26 L186.57,132.59 L187.35,131.92 L188.12,131.25 L188.90,130.59 L189.67,129.92 L190.45,129.26 L191.22,128.60 L192.00,127.94 L192.77,127.29 L193.54,126.63 L194.32,125.98 L195.09,125.33 L195.87,124.69 L196.64,124.04 L197.42,123.40 L198.19,122.76 L198.97,122.13 L199.74,121.50 L200.51,120.87 L201.29,120.24 L202.06,119.62 L202.84,119.00 L203.61,118.39 L204.39,117.77 L205.16,117.16 L205.94,116.56 L206.71,115.96 L207.49,115.36 L208.26,114.77 L209.03,114.18 L209.81,113.59 L210.58,113.01 L211.36,112.44 L212.13,111.87 L212.91,111.30 L213.68,110.74 L214.46,110.18 L215.23,109.63 L216.00,109.08 L216.78,108.53 L217.55,108.00 L218.33,107.46 L219.10,106.93 L219.88,106.41 L220.65,105.89 L221.43,105.38 L222.20,104.88 L222.97,104.38 L223.75,103.88 L224.52,103.39 L225.30,102.91 L226.07,102.43 L226.85,101.96 L227.62,101.50 L228.40,101.04 L229.17,100.59 L229.94,100.14 L230.72,99.70 L231.49,99.27 L232.27,98.84 L233.04,98.42 L233.82,98.01 L234.59,97.60 L235.37,97.20 L236.14,96.81 L236.91,96.43 L237.69,96.05 L238.46,95.68 L239.24,95.32 L240.01,94.96 L240.79,94.61 L241.56,94.27 L242.34,93.94 L243.11,93.61 L243.89,93.29 L244.66,92.98 L245.43,92.68 L246.21,92.39 L246.98,92.10 L247.76,91.82 L248.53,91.55 L249.31,91.29 L250.08,91.03 L250.86,90.79 L251.63,90.55 L252.40,90.32 L253.18,90.10 L253.95,89.88 L254.73,89.68 L255.50,89.48 L256.28,89.29 L257.05,89.11 L257.83,88.94 L258.60,88.78 L259.37,88.63 L260.15,88.48 L260.92,88.34 L261.70,88.22 L262.47,88.10 L263.25,87.99 L264.02,87.88 L264.80,87.79 L265.57,87.71 L266.34,87.63 L267.12,87.56 L267.89,87.51 L268.67,87.46 L269.44,87.42 L270.22,87.39 L270.99,87.37 L271.77,87.35 L272.54,87.35 L273.32,87.35 L274.09,87.37 L274.86,87.39 L275.64,87.42 L276.41,87.46 L277.19,87.51 L277.96,87.57 L278.74,87.63 L279.51,87.71 L280.29,87.79 L281.06,87.88 L281.84,87.99 L282.61,88.10 L283.39,88.22 L284.16,88.34 L284.94,88.48 L285.71,88.63 L286.49,88.78 L287.26,88.94 L288.04,89.11 L288.81,89.29 L289.59,89.48 L290.36,89.68 L291.14,89.88 L291.91,90.10 L292.69,90.32 L293.46,90.55 L294.24,90.79 L295.01,91.04 L295.79,91.29 L296.56,91.55 L297.34,91.83 L298.11,92.10 L298.88,92.39 L299.66,92.69 L300.43,92.99 L301.21,93.30 L301.98,93.62 L302.76,93.94 L303.53,94.28 L304.31,94.62 L305.08,94.97 L305.86,95.33 L306.63,95.69 L307.41,96.06 L308.18,96.44 L308.96,96.82 L309.73,97.22 L310.51,97.62 L311.28,98.02 L312.06,98.43 L312.83,98.86 L313.61,99.28 L314.38,99.72 L315.16,100.16 L315.93,100.60 L316.71,101.06 L317.48,101.51 L318.26,101.98 L319.03,102.45 L319.81,102.93 L320.58,103.41 L321.36,103.90 L322.13,104.40 L322.90,104.90 L323.68,105.41 L324.45,105.92 L325.23,106.44 L326.00,106.97 L326.78,107.50 L327.55,108.03 L328.33,108.57 L329.10,109.12 L329.88,109.67 L330.65,110.22 L331.43,110.78 L332.20,111.35 L332.98,111.92 L333.75,112.49 L334.53,113.07 L335.30,113.65 L336.08,114.24 L336.85,114.83 L337.63,115.43 L338.40,116.03 L339.18,116.64 L339.95,117.24 L340.73,117.86 L341.50,118.47 L342.28,119.09 L343.05,119.72 L343.83,120.34 L344.60,120.97 L345.38,121.61 L346.15,122.25 L346.92,122.89 L347.70,123.53 L348.47,124.18 L349.25,124.83 L350.02,125.48 L350.80,126.14 L351.57,126.79 L352.35,127.45 L353.12,128.12 L353.90,128.78 L354.67,129.45 L355.45,130.12 L356.22,130.80 L357.00,131.47 L357.77,132.15 L358.55,132.83 L359.32,133.51 L360.10,134.19 L360.87,134.88 L361.65,135.56 L362.42,136.25 L363.20,136.94 L363.97,137.63 L364.75,138.33 L365.52,139.02 L366.30,139.72 L367.07,140.41 L367.85,141.11 L368.62,141.81 L369.40,142.51 L370.17,143.21 L370.94,143.91 L371.72,144.61 L372.49,145.32 L373.27,146.02 L374.04,146.72 L374.82,147.43 L375.59,148.13 L376.37,148.84 L377.14,149.54 L377.92,150.25 L378.69,150.95 L379.47,151.66 L380.24,152.37 L381.02,153.07 L381.79,153.78 L382.57,154.48 L383.34,155.18 L384.12,155.89 L384.89,156.59 L385.67,157.29 L386.44,157.99 L387.22,158.69 L387.99,159.39 L388.77,160.09 L389.54,160.79 L390.32,161.48 L391.09,162.18 L391.87,162.87 L392.64,163.56 L393.42,164.25 L394.19,164.94 L394.96,165.63 L395.74,166.31 L396.51,166.99 L397.29,167.67 L398.06,168.35 L398.84,169.02 L399.61,169.70 L400.39,170.36 L401.16,171.03 L401.94,171.69 L402.71,172.35 L403.49,173.01 L404.26,173.66 L405.04,174.31 L405.81,174.95 L406.59,175.59 L407.36,176.23 L408.14,176.86 L408.91,177.49 L409.69,178.11 L410.46,178.72 L411.24,179.33 L412.01,179.94 L412.79,180.53 L413.56,181.12 L414.34,181.71 L415.11,182.29 L415.89,182.85 L416.66,183.42 L417.43,183.97 L418.21,184.51 L418.98,185.05 L419.76,185.57 L420.53,186.09 L421.31,186.60 L422.08,187.09 L422.86,187.57 L423.63,188.04 L424.41,188.50 L425.18,188.95 L425.96,189.38 L426.73,189.80 L427.51,190.20 L428.28,190.59 L429.06,190.96 L429.83,191.31 L430.61,191.65 L431.38,191.97 L432.16,192.27 L432.93,192.55 L433.71,192.81 L434.48,193.05 L435.26,193.27 L436.03,193.47 L436.81,193.64 L437.58,193.80 L438.36,193.93 L439.13,194.04 L439.91,194.12 L440.68,194.18 L441.45,194.22 L442.23,194.23 L443.01,194.23 L443.78,194.23 L444.56,194.24 L445.34,194.25 L446.12,194.26 L446.90,194.27 L447.67,194.28 L448.45,194.30 L449.23,194.32 L450.01,194.34 L450.78,194.36 L451.56,194.39 L452.34,194.42 L453.12,194.45 L453.89,194.48 L454.67,194.51 L455.45,194.55 L456.23,194.59 L457.00,194.63 L457.78,194.68 L458.56,194.72 L459.34,194.77 L460.11,194.82 L460.89,194.88 L461.67,194.93 L462.45,194.99 L463.22,195.05 L464.00,195.12 L464.78,195.18 L465.56,195.25 L466.33,195.32 L467.11,195.39 L467.89,195.47 L468.67,195.55 L469.44,195.63 L470.22,195.71 L471.00,195.80 L471.78,195.89 L472.55,195.98 L473.33,196.07 L474.11,196.17 L474.89,196.27 L475.66,196.37 L476.44,196.48 L477.22,196.59 L478.00,196.70 L478.77,196.81 L479.55,196.93 L480.33,197.05 L481.11,197.17 L481.88,197.29 L482.66,197.42 L483.44,197.55 L484.22,197.69 L484.99,197.82 L485.77,197.96 L486.55,198.11 L487.33,198.25 L488.10,198.40 L488.88,198.55 L489.66,198.71 L490.44,198.87 L491.21,199.03 L491.99,199.20 L492.77,199.36 L493.55,199.54 L494.33,199.71 L495.10,199.89 L495.88,200.07 L496.66,200.26 L497.44,200.45 L498.21,200.64 L498.99,200.83 L499.77,201.03 L500.55,201.24 L501.32,201.44 L502.10,201.65 L502.88,201.86 L503.66,202.08 L504.43,202.30 L505.21,202.53 L505.99,202.75 L506.77,202.99 L507.54,203.22 L508.32,203.46 L509.10,203.70 L509.88,203.95 L510.65,204.20 L511.43,204.45 L512.21,204.71 L512.99,204.97 L513.76,205.24 L514.54,205.51 L515.32,205.78 L516.10,206.06 L516.87,206.34 L517.65,206.62 L518.43,206.91 L519.21,207.21 L519.98,207.50 L520.76,207.80 L521.54,208.11 L522.32,208.42 L523.09,208.73 L523.87,209.04 L524.65,209.36 L525.43,209.69 L526.20,210.02 L526.98,210.35 L527.76,210.68 L528.54,211.02 L529.31,211.37 L530.09,211.72 L530.87,212.07 L531.65,212.42 L532.42,212.78 L533.20,213.14 L533.98,213.51 L534.76,213.88 L535.53,214.26 L536.31,214.63 L537.09,215.02 L537.87,215.40 L538.64,215.79 L539.42,216.18 L540.20,216.58 L540.20,216.58" stroke="#0000e6" stroke-width="2.4"/>
<path d="M76.60,216.58 L77.37,216.98 L78.15,217.38 L78.92,217.79 L79.70,218.20 L80.47,218.61 L81.25,219.03 L82.02,219.45 L82.80,219.87 L83.57,220.30 L84.34,220.73 L85.12,221.16 L85.89,221.60 L86.67,222.04 L87.44,222.48 L88.22,222.93 L88.99,223.38 L89.77,223.83 L90.54,224.28 L91.31,224.74 L92.09,225.20 L92.86,225.67 L93.64,226.13 L94.41,226.60 L95.19,227.08 L95.96,227.55 L96.74,228.03 L97.51,228.51 L98.29,228.99 L99.06,229.47 L99.83,229.96 L100.61,230.45 L101.38,230.94 L102.16,231.43 L102.93,231.93 L103.71,232.42 L104.48,232.92 L105.26,233.42 L106.03,233.93 L106.80,234.43 L107.58,234.94 L108.35,235.44 L109.13,235.95 L109.90,236.46 L110.68,236.98 L111.45,237.49 L112.23,238.00 L113.00,238.52 L113.77,239.04 L114.55,239.55 L115.32,240.07 L116.10,240.59 L116.87,241.11 L117.65,241.63 L118.42,242.15 L119.20,242.68 L119.97,243.20 L120.74,243.72 L121.52,244.24 L122.29,244.77 L123.07,245.29 L123.84,245.81 L124.62,246.34 L125.39,246.86 L126.17,247.38 L126.94,247.91 L127.71,248.43 L128.49,248.95 L129.26,249.48 L130.04,250.00 L130.81,250.52 L131.59,251.04 L132.36,251.56 L133.14,252.08 L133.91,252.60 L134.69,253.12 L135.46,253.63 L136.23,254.15 L137.01,254.66 L137.78,255.18 L138.56,255.69 L139.33,256.20 L140.11,256.71 L140.88,257.22 L141.66,257.72 L142.43,258.23 L143.20,258.73 L143.98,259.23 L144.75,259.73 L145.53,260.23 L146.30,260.73 L147.08,261.22 L147.85,261.72 L148.63,262.21 L149.40,262.70 L150.17,263.18 L150.95,263.67 L151.72,264.15 L152.50,264.63 L153.27,265.11 L154.05,265.58 L154.82,266.06 L155.60,266.53 L156.37,267.00 L157.14,267.46 L157.92,267.93 L158.69,268.39 L159.47,268.85 L160.24,269.30 L161.02,269.75 L161.79,270.20 L162.57,270.65 L163.34,271.10 L164.11,271.54 L164.89,271.98 L165.66,272.41 L166.44,272.85 L167.21,273.28 L167.99,273.70 L168.76,274.13 L169.54,274.55 L170.31,274.97 L171.09,275.38 L171.86,275.79 L172.63,276.20 L173.41,276.61 L174.18,277.01 L174.96,277.41 L175.73,277.81 L176.51,278.20 L177.28,278.59 L178.06,278.98 L178.83,279.36 L179.60,279.74 L180.38,280.12 L181.15,280.49 L181.93,280.86 L182.70,281.23 L183.48,281.59 L184.25,281.95 L185.03,282.31 L185.80,282.66 L186.57,283.01 L187.35,283.36 L188.12,283.70 L188.90,284.04 L189.67,284.38 L190.45,284.71 L191.22,285.04 L192.00,285.37 L192.77,285.69 L193.54,286.01 L194.32,286.33 L195.09,286.64 L195.87,286.95 L196.64,287.25 L197.42,287.56 L198.19,287.85 L198.97,288.15 L199.74,288.44 L200.51,288.73 L201.29,289.02 L202.06,289.30 L202.84,289.58 L203.61,289.85 L204.39,290.12 L205.16,290.39 L205.94,290.66 L206.71,290.92 L207.49,291.18 L208.26,291.43 L209.03,291.68 L209.81,291.93 L210.58,292.18 L211.36,292.42 L212.13,292.66 L212.91,292.89 L213.68,293.12 L214.46,293.35 L215.23,293.58 L216.00,293.80 L216.78,294.02 L217.55,294.23 L218.33,294.44 L219.10,294.65 L219.88,294.86 L220.65,295.06 L221.43,295.26 L222.20,295.46 L222.97,295.65 L223.75,295.84 L224.52,296.02 L225.30,296.21 L226.07,296.39 L226.85,296.56 L227.62,296.74 L228.40,296.91 L229.17,297.07 L229.94,297.24 L230.72,297.40 L231.49,297.55 L232.27,297.71 L233.04,297.86 L233.82,298.01 L234.59,298.15 L235.37,298.30 L236.14,298.44 L236.91,298.57 L237.69,298.70 L238.46,298.83 L239.24,298.96 L240.01,299.08 L240.79,299.21 L241.56,299.32 L242.34,299.44 L243.11,299.55 L243.89,299.66 L244.66,299.76 L245.43,299.87 L246.21,299.97 L246.98,300.06 L247.76,300.16 L248.53,300.25 L249.31,300.34 L250.08,300.42 L250.86,300.50 L251.63,300.58 L252.40,300.66 L253.18,300.73 L253.95,300.80 L254.73,300.87 L255.50,300.93 L256.28,301.00 L257.05,301.05 L257.83,301.11 L258.60,301.16 L259.37,301.21 L260.15,301.26 L260.92,301.30 L261.70,301.35 L262.47,301.38 L263.25,301.42 L264.02,301.45 L264.80,301.48 L265.57,301.51 L266.34,301.53 L267.12,301.56 L267.89,301.57 L268.67,301.59 L269.44,301.60 L270.22,301.61 L270.99,301.62 L271.77,301.62 L272.54,301.63 L273.32,301.62 L274.09,301.62 L274.86,301.61 L275.64,301.60 L276.41,301.59 L277.19,301.57 L277.96,301.56 L278.74,301.53 L279.51,301.51 L280.29,301.48 L281.06,301.45 L281.84,301.42 L282.61,301.38 L283.39,301.35 L284.16,301.30 L284.94,301.26 L285.71,301.21 L286.49,301.16 L287.26,301.11 L288.04,301.05 L288.81,300.99 L289.59,300.93 L290.36,300.87 L291.14,300.80 L291.91,300.73 L292.69,300.66 L293.46,300.58 L294.24,300.50 L295.01,300.42 L295.79,300.33 L296.56,300.25 L297.34,300.16 L298.11,300.06 L298.88,299.96 L299.66,299.86 L300.43,299.76 L301.21,299.66 L301.98,299.55 L302.76,299.44 L303.53,299.32 L304.31,299.20 L305.08,299.08 L305.86,298.96 L306.63,298.83 L307.41,298.70 L308.18,298.57 L308.96,298.43 L309.73,298.29 L310.51,298.15 L311.28,298.01 L312.06,297.86 L312.83,297.71 L313.61,297.55 L314.38,297.39 L315.16,297.23 L315.93,297.07 L316.71,296.90 L317.48,296.73 L318.26,296.56 L319.03,296.38 L319.81,296.20 L320.58,296.02 L321.36,295.83 L322.13,295.64 L322.90,295.45 L323.68,295.25 L324.45,295.05 L325.23,294.85 L326.00,294.65 L326.78,294.44 L327.55,294.22 L328.33,294.01 L329.10,293.79 L329.88,293.57 L330.65,293.34 L331.43,293.11 L332.20,292.88 L332.98,292.65 L333.75,292.41 L334.53,292.17 L335.30,291.92 L336.08,291.67 L336.85,291.42 L337.63,291.16 L338.40,290.91 L339.18,290.64 L339.95,290.38 L340.73,290.11 L341.50,289.84 L342.28,289.56 L343.05,289.28 L343.83,289.00 L344.60,288.71 L345.38,288.42 L346.15,288.13 L346.92,287.83 L347.70,287.53 L348.47,287.23 L349.25,286.92 L350.02,286.61 L350.80,286.30 L351.57,285.98 L352.35,285.66 L353.12,285.34 L353.90,285.01 L354.67,284.68 L355.45,284.35 L356.22,284.01 L357.00,283.67 L357.77,283.32 L358.55,282.98 L359.32,282.63 L360.10,282.27 L360.87,281.91 L361.65,281.55 L362.42,281.19 L363.20,280.82 L363.97,280.45 L364.75,280.07 L365.52,279.70 L366.30,279.32 L367.07,278.93 L367.85,278.54 L368.62,278.15 L369.40,277.76 L370.17,277.36 L370.94,276.96 L371.72,276.56 L372.49,276.15 L373.27,275.74 L374.04,275.33 L374.82,274.91 L375.59,274.49 L376.37,274.07 L377.14,273.65 L377.92,273.22 L378.69,272.79 L379.47,272.36 L380.24,271.92 L381.02,271.48 L381.79,271.04 L382.57,270.60 L383.34,270.15 L384.12,269.70 L384.89,269.25 L385.67,268.80 L386.44,268.34 L387.22,267.88 L387.99,267.42 L388.77,266.96 L389.54,266.49 L390.32,266.03 L391.09,265.56 L391.87,265.09 L392.64,264.61 L393.42,264.14 L394.19,263.66 L394.96,263.19 L395.74,262.71 L396.51,262.23 L397.29,261.75 L398.06,261.27 L398.84,260.79 L399.61,260.30 L400.39,259.82 L401.16,259.34 L401.94,258.85 L402.71,258.37 L403.49,257.88 L404.26,257.40 L405.04,256.91 L405.81,256.43 L406.59,255.95 L407.36,255.47 L408.14,254.99 L408.91,254.51 L409.69,254.03 L410.46,253.56 L411.24,253.08 L412.01,252.61 L412.79,252.15 L413.56,251.68 L414.34,251.22 L415.11,250.76 L415.89,250.31 L416.66,249.86 L417.43,249.42 L418.21,248.98 L418.98,248.55 L419.76,248.12 L420.53,247.70 L421.31,247.29 L422.08,246.88 L422.86,246.48 L423.63,246.09 L424.41,245.71 L425.18,245.34 L425.96,244.98 L426.73,244.64 L427.51,244.30 L428.28,243.97 L429.06,243.66 L429.83,243.36 L430.61,243.07 L431.38,242.80 L432.16,242.55 L432.93,242.31 L433.71,242.09 L434.48,241.88 L435.26,241.69 L436.03,241.52 L436.81,241.37 L437.58,241.24 L438.36,241.13 L439.13,241.04 L439.91,240.96 L440.68,240.91 L441.45,240.88 L442.23,240.87 L443.01,240.87 L443.78,240.86 L444.56,240.86 L445.34,240.85 L446.12,240.83 L446.90,240.82 L447.67,240.80 L448.45,240.78 L449.23,240.75 L450.01,240.72 L450.78,240.69 L451.56,240.66 L452.34,240.62 L453.12,240.58 L453.89,240.54 L454.67,240.50 L455.45,240.45 L456.23,240.40 L457.00,240.34 L457.78,240.29 L458.56,240.23 L459.34,240.16 L460.11,240.10 L460.89,240.03 L461.67,239.96 L462.45,239.88 L463.22,239.80 L464.00,239.72 L464.78,239.64 L465.56,239.55 L466.33,239.46 L467.11,239.37 L467.89,239.27 L468.67,239.18 L469.44,239.07 L470.22,238.97 L471.00,238.86 L471.78,238.75 L472.55,238.64 L473.33,238.52 L474.11,238.40 L474.89,238.28 L475.66,238.15 L476.44,238.02 L477.22,237.89 L478.00,237.76 L478.77,237.62 L479.55,237.48 L480.33,237.33 L481.11,237.19 L481.88,237.04 L482.66,236.88 L483.44,236.73 L484.22,236.57 L484.99,236.41 L485.77,236.24 L486.55,236.07 L487.33,235.90 L488.10,235.73 L488.88,235.55 L489.66,235.37 L490.44,235.18 L491.21,234.99 L491.99,234.80 L492.77,234.61 L493.55,234.41 L494.33,234.21 L495.10,234.01 L495.88,233.80 L496.66,233.59 L497.44,233.38 L498.21,233.16 L498.99,232.94 L499.77,232.72 L500.55,232.50 L501.32,232.27 L502.10,232.04 L502.88,231.80 L503.66,231.56 L504.43,231.32 L505.21,231.07 L505.99,230.83 L506.77,230.57 L507.54,230.32 L508.32,230.06 L509.10,229.80 L509.88,229.53 L510.65,229.27 L511.43,229.00 L512.21,228.72 L512.99,228.44 L513.76,228.16 L514.54,227.88 L515.32,227.59 L516.10,227.30 L516.87,227.00 L517.65,226.70 L518.43,226.40 L519.21,226.10 L519.98,225.79 L520.76,225.48 L521.54,225.16 L522.32,224.84 L523.09,224.52 L523.87,224.20 L524.65,223.87 L525.43,223.54 L526.20,223.20 L526.98,222.86 L527.76,222.52 L528.54,222.18 L529.31,221.83 L530.09,221.47 L530.87,221.12 L531.65,220.76 L532.42,220.40 L533.20,220.03 L533.98,219.66 L534.76,219.29 L535.53,218.91 L536.31,218.53 L537.09,218.15 L537.87,217.76 L538.64,217.37 L539.42,216.98 L540.20,216.58 L540.20,216.58" stroke="#0000e6" stroke-width="2.4"/>
<path d="M76.60,215.85 L77.37,215.37 L78.15,214.88 L78.92,214.40 L79.70,213.92 L80.47,213.43 L81.25,212.95 L82.02,212.47 L82.80,211.98 L83.57,211.50 L84.34,211.02 L85.12,210.53 L85.89,210.05 L86.67,209.57 L87.44,209.08 L88.22,208.60 L88.99,208.12 L89.77,207.63 L90.54,207.15 L91.31,206.67 L92.09,206.18 L92.86,205.70 L93.64,205.22 L94.41,204.73 L95.19,204.25 L95.96,203.77 L96.74,203.28 L97.51,202.80 L98.29,202.32 L99.06,201.83 L99.83,201.35 L100.61,200.87 L101.38,200.38 L102.16,199.90 L102.93,199.42 L103.71,198.93 L104.48,198.45 L105.26,197.97 L106.03,197.48 L106.80,197.00 L107.58,196.52 L108.35,196.03 L109.13,195.55 L109.90,195.07 L110.68,194.58 L111.45,194.10 L112.23,193.62 L113.00,193.13 L113.77,192.65 L114.55,192.17 L115.32,191.68 L116.10,191.20 L116.87,190.72 L117.65,190.23 L118.42,189.75 L119.20,189.27 L119.97,188.78 L120.74,188.30 L121.52,187.82 L122.29,187.33 L123.07,186.85 L123.84,186.37 L124.62,185.88 L125.39,185.40 L126.17,184.92 L126.94,184.43 L127.71,183.95 L128.49,183.47 L129.26,182.98 L130.04,182.50 L130.81,182.02 L131.59,181.53 L132.36,181.05 L133.14,180.57 L133.91,180.08 L134.69,179.60 L135.46,179.12 L136.23,178.63 L137.01,178.15 L137.78,177.67 L138.56,177.18 L139.33,176.70 L140.11,176.22 L140.88,175.73 L141.66,175.25 L142.43,174.77 L143.20,174.28 L143.98,173.80 L144.75,173.32 L145.53,172.83 L146.30,172.35 L147.08,171.87 L147.85,171.38 L148.63,170.90 L149.40,170.42 L150.17,169.93 L150.95,169.45 L151.72,168.97 L152.50,168.48 L153.27,168.00 L154.05,167.52 L154.82,167.03 L155.60,166.55 L156.37,166.07 L157.14,165.58 L157.92,165.10 L158.69,164.62 L159.47,164.13 L160.24,163.65 L161.02,163.17 L161.79,162.68 L162.57,162.20 L163.34,161.72 L164.11,161.23 L164.89,160.75 L165.66,160.27 L166.44,159.78 L167.21,159.30 L167.99,158.82 L168.76,158.33 L169.54,157.85 L170.31,157.37 L171.09,156.88 L171.86,156.40 L172.63,155.92 L173.41,155.43 L174.18,154.95 L174.96,154.47 L175.73,153.98 L176.51,153.50 L177.28,153.02 L178.06,152.53 L178.83,152.05 L179.60,151.57 L180.38,151.08 L181.15,150.60 L181.93,150.12 L182.70,149.63 L183.48,149.15 L184.25,148.67 L185.03,148.18 L185.80,147.70 L186.57,147.22 L187.35,146.73 L188.12,146.25 L188.90,145.77 L189.67,145.28 L190.45,144.80 L191.22,144.32 L192.00,143.83 L192.77,143.35 L193.54,142.87 L194.32,142.38 L195.09,141.90 L195.87,141.42 L196.64,140.93 L197.42,140.45 L198.19,139.97 L198.97,139.48 L199.74,139.00 L200.51,138.52 L201.29,138.03 L202.06,137.55 L202.84,137.07 L203.61,136.58 L204.39,136.10 L205.16,135.62 L205.94,135.13 L206.71,134.65 L207.49,134.17 L208.26,133.68 L209.03,133.20 L209.81,132.72 L210.58,132.23 L211.36,131.75 L212.13,131.27 L212.91,130.78 L213.68,130.30 L214.46,129.82 L215.23,129.33 L216.00,128.85 L216.78,128.37 L217.55,127.88 L218.33,127.40 L219.10,126.92 L219.88,126.43 L220.65,125.95 L221.43,125.47 L222.20,124.98 L222.97,124.50 L223.75,124.02 L224.52,123.53 L225.30,123.05 L226.07,122.57 L226.85,122.08 L227.62,121.60 L228.40,121.12 L229.17,120.63 L229.94,120.15 L230.72,119.67 L231.49,119.18 L232.27,118.70 L233.04,118.22 L233.82,117.73 L234.59,117.25 L235.37,116.77 L236.14,116.28 L236.91,115.80 L237.69,115.32 L238.46,114.83 L239.24,114.35 L240.01,113.87 L240.79,113.38 L241.56,112.90 L242.34,112.42 L243.11,111.93 L243.89,111.45 L244.66,110.97 L245.43,110.48 L246.21,110.00 L246.98,109.52 L247.76,109.03 L248.53,108.55 L249.31,108.07 L250.08,107.58 L250.86,107.10 L251.63,106.62 L252.40,106.13 L253.18,105.65 L253.95,105.17 L254.73,104.68 L255.50,104.20 L256.28,103.72 L257.05,103.23 L257.83,102.75 L258.60,102.27 L259.37,101.78 L260.15,101.30 L260.92,100.82 L261.70,100.33 L262.47,99.85 L263.25,99.37 L264.02,98.88 L264.80,98.40 L265.57,97.92 L266.34,97.43 L267.12,96.95 L267.89,96.47 L268.67,95.98 L269.44,95.50 L270.22,95.02 L270.99,94.53 L271.77,94.05 L272.54,93.57 L273.32,93.98 L274.09,94.40 L274.86,94.82 L275.64,95.24 L276.41,95.65 L277.19,96.07 L277.96,96.48 L278.74,96.90 L279.51,97.31 L280.29,97.73 L281.06,98.14 L281.84,98.55 L282.61,98.97 L283.39,99.38 L284.16,99.79 L284.94,100.20 L285.71,100.61 L286.49,101.02 L287.26,101.43 L288.04,101.84 L288.81,102.25 L289.59,102.65 L290.36,103.06 L291.14,103.47 L291.91,103.87 L292.69,104.28 L293.46,104.68 L294.24,105.08 L295.01,105.49 L295.79,105.89 L296.56,106.29 L297.34,106.69 L298.11,107.09 L298.88,107.49 L299.66,107.89 L300.43,108.29 L301.21,108.69 L301.98,109.08 L302.76,109.48 L303.53,109.87 L304.31,110.27 L305.08,110.66 L305.86,111.06 L306.63,111.45 L307.41,111.84 L308.18,112.23 L308.96,112.62 L309.73,113.01 L310.51,113.40 L311.28,113.79 L312.06,114.17 L312.83,114.56 L313.61,114.94 L314.38,115.33 L315.16,115.71 L315.93,116.09 L316.71,116.48 L317.48,116.86 L318.26,117.24 L319.03,117.62 L319.81,117.99 L320.58,118.37 L321.36,118.75 L322.13,119.12 L322.90,119.50 L323.68,119.87 L324.45,120.24 L325.23,120.61 L326.00,120.98 L326.78,121.35 L327.55,121.72 L328.33,122.09 L329.10,122.45 L329.88,122.82 L330.65,123.18 L331.43,123.55 L332.20,123.91 L332.98,124.27 L333.75,124.63 L334.53,124.99 L335.30,125.34 L336.08,125.70 L336.85,126.05 L337.63,126.41 L338.40,126.76 L339.18,127.11 L339.95,127.46 L340.73,127.81 L341.50,128.16 L342.28,128.50 L343.05,128.85 L343.83,129.19 L344.60,129.53 L345.38,129.87 L346.15,130.21 L346.92,130.55 L347.70,130.89 L348.47,131.22 L349.25,131.55 L350.02,131.89 L350.80,132.22 L351.57,132.55 L352.35,132.87 L353.12,133.20 L353.90,133.53 L354.67,133.85 L355.45,134.17 L356.22,134.49 L357.00,134.81 L357.77,135.12 L358.55,135.44 L359.32,135.75 L360.10,136.06 L360.87,136.37 L361.65,136.68 L362.42,136.99 L363.20,137.29 L363.97,137.60 L364.75,137.90 L365.52,138.20 L366.30,138.49 L367.07,138.79 L367.85,139.08 L368.62,139.37 L369.40,139.66 L370.17,139.95 L370.94,140.24 L371.72,140.52 L372.49,140.80 L373.27,141.08 L374.04,141.36 L374.82,141.63 L375.59,141.91 L376.37,142.18 L377.14,142.44 L377.92,142.71 L378.69,142.98 L379.47,143.24 L380.24,143.50 L381.02,143.75 L381.79,144.01 L382.57,144.26 L383.34,144.51 L384.12,144.76 L384.89,145.01 L385.67,145.25 L386.44,145.49 L387.22,145.73 L387.99,145.96 L388.77,146.20 L389.54,146.43 L390.32,146.65 L391.09,146.88 L391.87,147.10 L392.64,147.32 L393.42,147.54 L394.19,147.75 L394.96,147.96 L395.74,148.17 L396.51,148.38 L397.29,148.58 L398.06,148.78 L398.84,148.98 L399.61,149.17 L400.39,149.37 L401.16,149.55 L401.94,149.74 L402.71,149.92 L403.49,150.10 L404.26,150.28 L405.04,150.45 L405.81,150.62 L406.59,150.79 L407.36,150.95 L408.14,151.11 L408.91,151.27 L409.69,151.42 L410.46,151.57 L411.24,151.72 L412.01,151.87 L412.79,152.01 L413.56,152.14 L414.34,152.28 L415.11,152.41 L415.89,152.54 L416.66,152.66 L417.43,152.78 L418.21,152.90 L418.98,153.01 L419.76,153.12 L420.53,153.23 L421.31,153.33 L422.08,153.43 L422.86,153.52 L423.63,153.62 L424.41,153.70 L425.18,153.79 L425.96,153.87 L426.73,153.95 L427.51,154.02 L428.28,154.09 L429.06,154.16 L429.83,154.22 L430.61,154.28 L431.38,154.33 L432.16,154.39 L432.93,154.43 L433.71,154.48 L434.48,154.52 L435.26,154.55 L436.03,154.59 L436.81,154.61 L437.58,154.64 L438.36,154.66 L439.13,154.68 L439.91,154.69 L440.68,154.70 L441.45,154.71 L442.23,154.71 L443.01,155.19 L443.78,155.68 L444.56,156.16 L445.34,156.65 L446.12,157.13 L446.90,157.62 L447.67,158.10 L448.45,158.59 L449.23,159.08 L450.01,159.56 L450.78,160.05 L451.56,160.53 L452.34,161.02 L453.12,161.50 L453.89,161.99 L454.67,162.47 L455.45,162.96 L456.23,163.44 L457.00,163.93 L457.78,164.41 L458.56,164.90 L459.34,165.38 L460.11,165.87 L460.89,166.35 L461.67,166.84 L462.45,167.32 L463.22,167.81 L464.00,168.29 L464.78,168.78 L465.56,169.27 L466.33,169.75 L467.11,170.24 L467.89,170.72 L468.67,171.21 L469.44,171.69 L470.22,172.18 L471.00,172.66 L471.78,173.15 L472.55,173.63 L473.33,174.12 L474.11,174.60 L474.89,175.09 L475.66,175.57 L476.44,176.06 L477.22,176.54 L478.00,177.03 L478.77,177.51 L479.55,178.00 L480.33,178.49 L481.11,178.97 L481.88,179.46 L482.66,179.94 L483.44,180.43 L484.22,180.91 L484.99,181.40 L485.77,181.88 L486.55,182.37 L487.33,182.85 L488.10,183.34 L488.88,183.82 L489.66,184.31 L490.44,184.79 L491.21,185.28 L491.99,185.76 L492.77,186.25 L493.55,186.73 L494.33,187.22 L495.10,187.71 L495.88,188.19 L496.66,188.68 L497.44,189.16 L498.21,189.65 L498.99,190.13 L499.77,190.62 L500.55,191.10 L501.32,191.59 L502.10,192.07 L502.88,192.56 L503.66,193.04 L504.43,193.53 L505.21,194.01 L505.99,194.50 L506.77,194.98 L507.54,195.47 L508.32,195.95 L509.10,196.44 L509.88,196.93 L510.65,197.41 L511.43,197.90 L512.21,198.38 L512.99,198.87 L513.76,199.35 L514.54,199.84 L515.32,200.32 L516.10,200.81 L516.87,201.29 L517.65,201.78 L518.43,202.26 L519.21,202.75 L519.98,203.23 L520.76,203.72 L521.54,204.20 L522.32,204.69 L523.09,205.17 L523.87,205.66 L524.65,206.14 L525.43,206.63 L526.20,207.12 L526.98,207.60 L527.76,208.09 L528.54,208.57 L529.31,209.06 L530.09,209.54 L530.87,210.03 L531.65,210.51 L532.42,211.00 L533.20,211.48 L533.98,211.97 L534.76,212.45 L535.53,212.94 L536.31,213.42 L537.09,213.91 L537.87,214.39 L538.64,214.88 L539.42,215.36 L540.20,215.85 L540.20,215.85" stroke="#727272" stroke-width="1.2"/>
<path d="M76.60,215.85 L77.37,216.33 L78.15,216.82 L78.92,217.30 L79.70,217.78 L80.47,218.27 L81.25,218.75 L82.02,219.23 L82.80,219.72 L83.57,220.20 L84.34,220.68 L85.12,221.17 L85.89,221.65 L86.67,222.13 L87.44,222.62 L88.22,223.10 L88.99,223.58 L89.77,224.07 L90.54,224.55 L91.31,225.03 L92.09,225.52 L92.86,226.00 L93.64,226.48 L94.41,226.97 L95.19,227.45 L95.96,227.93 L96.74,228.42 L97.51,228.90 L98.29,229.38 L99.06,229.87 L99.83,230.35 L100.61,230.83 L101.38,231.32 L102.16,231.80 L102.93,232.28 L103.71,232.77 L104.48,233.25 L105.26,233.73 L106.03,234.22 L106.80,234.70 L107.58,235.18 L108.35,235.67 L109.13,236.15 L109.90,236.63 L110.68,237.12 L111.45,237.60 L112.23,238.08 L113.00,238.57 L113.77,239.05 L114.55,239.53 L115.32,240.02 L116.10,240.50 L116.87,240.98 L117.65,241.47 L118.42,241.95 L119.20,242.43 L119.97,242.92 L120.74,243.40 L121.52,243.88 L122.29,244.37 L123.07,244.85 L123.84,245.33 L124.62,245.82 L125.39,246.30 L126.17,246.78 L126.94,247.27 L127.71,247.75 L128.49,248.23 L129.26,248.72 L130.04,249.20 L130.81,249.68 L131.59,250.17 L132.36,250.65 L133.14,251.13 L133.91,251.62 L134.69,252.10 L135.46,252.58 L136.23,253.07 L137.01,253.55 L137.78,254.03 L138.56,254.52 L139.33,255.00 L140.11,255.48 L140.88,255.97 L141.66,256.45 L142.43,256.93 L143.20,257.42 L143.98,257.90 L144.75,258.38 L145.53,258.87 L146.30,259.35 L147.08,259.83 L147.85,260.32 L148.63,260.80 L149.40,261.28 L150.17,261.77 L150.95,262.25 L151.72,262.73 L152.50,263.22 L153.27,263.70 L154.05,264.18 L154.82,264.67 L155.60,265.15 L156.37,265.63 L157.14,266.12 L157.92,266.60 L158.69,267.08 L159.47,267.57 L160.24,268.05 L161.02,268.53 L161.79,269.02 L162.57,269.50 L163.34,269.98 L164.11,270.47 L164.89,270.95 L165.66,271.43 L166.44,271.92 L167.21,272.40 L167.99,272.88 L168.76,273.37 L169.54,273.85 L170.31,274.33 L171.09,274.82 L171.86,275.30 L172.63,275.78 L173.41,276.27 L174.18,276.75 L174.96,277.23 L175.73,277.72 L176.51,278.20 L177.28,278.68 L178.06,279.17 L178.83,279.65 L179.60,280.13 L180.38,280.62 L181.15,281.10 L181.93,281.58 L182.70,282.07 L183.48,282.55 L184.25,283.03 L185.03,283.52 L185.80,284.00 L186.57,284.48 L187.35,284.97 L188.12,285.45 L188.90,285.93 L189.67,286.42 L190.45,286.90 L191.22,287.38 L192.00,287.87 L192.77,288.35 L193.54,288.83 L194.32,289.32 L195.09,289.80 L195.87,290.28 L196.64,290.77 L197.42,291.25 L198.19,291.73 L198.97,292.22 L199.74,292.70 L200.51,293.18 L201.29,293.67 L202.06,294.15 L202.84,294.63 L203.61,295.12 L204.39,295.60 L205.16,296.08 L205.94,296.57 L206.71,297.05 L207.49,297.53 L208.26,298.02 L209.03,298.50 L209.81,298.98 L210.58,299.47 L211.36,299.95 L212.13,300.43 L212.91,300.92 L213.68,301.40 L214.46,301.88 L215.23,302.37 L216.00,302.85 L216.78,303.33 L217.55,303.82 L218.33,304.30 L219.10,304.78 L219.88,305.27 L220.65,305.75 L221.43,306.23 L222.20,306.72 L222.97,307.20 L223.75,307.68 L224.52,308.17 L225.30,308.65 L226.07,309.13 L226.85,309.62 L227.62,310.10 L228.40,310.58 L229.17,311.07 L229.94,311.55 L230.72,312.03 L231.49,312.52 L232.27,313.00 L233.04,313.48 L233.82,313.97 L234.59,314.45 L235.37,314.93 L236.14,315.42 L236.91,315.90 L237.69,316.38 L238.46,316.87 L239.24,317.35 L240.01,317.83 L240.79,318.32 L241.56,318.80 L242.34,319.28 L243.11,319.77 L243.89,320.25 L244.66,320.73 L245.43,321.22 L246.21,321.70 L246.98,322.18 L247.76,322.67 L248.53,323.15 L249.31,323.63 L250.08,324.12 L250.86,324.60 L251.63,325.08 L252.40,325.57 L253.18,326.05 L253.95,326.53 L254.73,327.02 L255.50,327.50 L256.28,327.98 L257.05,328.47 L257.83,328.95 L258.60,329.43 L259.37,329.92 L260.15,330.40 L260.92,330.88 L261.70,331.37 L262.47,331.85 L263.25,332.33 L264.02,332.82 L264.80,333.30 L265.57,333.78 L266.34,334.27 L267.12,334.75 L267.89,335.23 L268.67,335.72 L269.44,336.20 L270.22,336.68 L270.99,337.17 L271.77,337.65 L272.54,338.13 L273.32,337.72 L274.09,337.30 L274.86,336.88 L275.64,336.46 L276.41,336.05 L277.19,335.63 L277.96,335.22 L278.74,334.80 L279.51,334.39 L280.29,333.97 L281.06,333.56 L281.84,333.15 L282.61,332.73 L283.39,332.32 L284.16,331.91 L284.94,331.50 L285.71,331.09 L286.49,330.68 L287.26,330.27 L288.04,329.86 L288.81,329.45 L289.59,329.05 L290.36,328.64 L291.14,328.23 L291.91,327.83 L292.69,327.42 L293.46,327.02 L294.24,326.62 L295.01,326.21 L295.79,325.81 L296.56,325.41 L297.34,325.01 L298.11,324.61 L298.88,324.21 L299.66,323.81 L300.43,323.41 L301.21,323.01 L301.98,322.62 L302.76,322.22 L303.53,321.83 L304.31,321.43 L305.08,321.04 L305.86,320.64 L306.63,320.25 L307.41,319.86 L308.18,319.47 L308.96,319.08 L309.73,318.69 L310.51,318.30 L311.28,317.91 L312.06,317.53 L312.83,317.14 L313.61,316.76 L314.38,316.37 L315.16,315.99 L315.93,315.61 L316.71,315.22 L317.48,314.84 L318.26,314.46 L319.03,314.08 L319.81,313.71 L320.58,313.33 L321.36,312.95 L322.13,312.58 L322.90,312.20 L323.68,311.83 L324.45,311.46 L325.23,311.09 L326.00,310.72 L326.78,310.35 L327.55,309.98 L328.33,309.61 L329.10,309.25 L329.88,308.88 L330.65,308.52 L331.43,308.15 L332.20,307.79 L332.98,307.43 L333.75,307.07 L334.53,306.71 L335.30,306.36 L336.08,306.00 L336.85,305.65 L337.63,305.29 L338.40,304.94 L339.18,304.59 L339.95,304.24 L340.73,303.89 L341.50,303.54 L342.28,303.20 L343.05,302.85 L343.83,302.51 L344.60,302.17 L345.38,301.83 L346.15,301.49 L346.92,301.15 L347.70,300.81 L348.47,300.48 L349.25,300.15 L350.02,299.81 L350.80,299.48 L351.57,299.15 L352.35,298.83 L353.12,298.50 L353.90,298.17 L354.67,297.85 L355.45,297.53 L356.22,297.21 L357.00,296.89 L357.77,296.58 L358.55,296.26 L359.32,295.95 L360.10,295.64 L360.87,295.33 L361.65,295.02 L362.42,294.71 L363.20,294.41 L363.97,294.10 L364.75,293.80 L365.52,293.50 L366.30,293.21 L367.07,292.91 L367.85,292.62 L368.62,292.33 L369.40,292.04 L370.17,291.75 L370.94,291.46 L371.72,291.18 L372.49,290.90 L373.27,290.62 L374.04,290.34 L374.82,290.07 L375.59,289.79 L376.37,289.52 L377.14,289.26 L377.92,288.99 L378.69,288.72 L379.47,288.46 L380.24,288.20 L381.02,287.95 L381.79,287.69 L382.57,287.44 L383.34,287.19 L384.12,286.94 L384.89,286.69 L385.67,286.45 L386.44,286.21 L387.22,285.97 L387.99,285.74 L388.77,285.50 L389.54,285.27 L390.32,285.05 L391.09,284.82 L391.87,284.60 L392.64,284.38 L393.42,284.16 L394.19,283.95 L394.96,283.74 L395.74,283.53 L396.51,283.32 L397.29,283.12 L398.06,282.92 L398.84,282.72 L399.61,282.53 L400.39,282.33 L401.16,282.15 L401.94,281.96 L402.71,281.78 L403.49,281.60 L404.26,281.42 L405.04,281.25 L405.81,281.08 L406.59,280.91 L407.36,280.75 L408.14,280.59 L408.91,280.43 L409.69,280.28 L410.46,280.13 L411.24,279.98 L412.01,279.83 L412.79,279.69 L413.56,279.56 L414.34,279.42 L415.11,279.29 L415.89,279.16 L416.66,279.04 L417.43,278.92 L418.21,278.80 L418.98,278.69 L419.76,278.58 L420.53,278.47 L421.31,278.37 L422.08,278.27 L422.86,278.18 L423.63,278.08 L424.41,278.00 L425.18,277.91 L425.96,277.83 L426.73,277.75 L427.51,277.68 L428.28,277.61 L429.06,277.54 L429.83,277.48 L430.61,277.42 L431.38,277.37 L432.16,277.31 L432.93,277.27 L433.71,277.22 L434.48,277.18 L435.26,277.15 L436.03,277.11 L436.81,277.09 L437.58,277.06 L438.36,277.04 L439.13,277.02 L439.91,277.01 L440.68,277.00 L441.45,276.99 L442.23,276.99 L443.01,276.51 L443.78,276.02 L444.56,275.54 L445.34,275.05 L446.12,274.57 L446.90,274.08 L447.67,273.60 L448.45,273.11 L449.23,272.62 L450.01,272.14 L450.78,271.65 L451.56,271.17 L452.34,270.68 L453.12,270.20 L453.89,269.71 L454.67,269.23 L455.45,268.74 L456.23,268.26 L457.00,267.77 L457.78,267.29 L458.56,266.80 L459.34,266.32 L460.11,265.83 L460.89,265.35 L461.67,264.86 L462.45,264.38 L463.22,263.89 L464.00,263.41 L464.78,262.92 L465.56,262.43 L466.33,261.95 L467.11,261.46 L467.89,260.98 L468.67,260.49 L469.44,260.01 L470.22,259.52 L471.00,259.04 L471.78,258.55 L472.55,258.07 L473.33,257.58 L474.11,257.10 L474.89,256.61 L475.66,256.13 L476.44,255.64 L477.22,255.16 L478.00,254.67 L478.77,254.19 L479.55,253.70 L480.33,253.21 L481.11,252.73 L481.88,252.24 L482.66,251.76 L483.44,251.27 L484.22,250.79 L484.99,250.30 L485.77,249.82 L486.55,249.33 L487.33,248.85 L488.10,248.36 L488.88,247.88 L489.66,247.39 L490.44,246.91 L491.21,246.42 L491.99,245.94 L492.77,245.45 L493.55,244.97 L494.33,244.48 L495.10,243.99 L495.88,243.51 L496.66,243.02 L497.44,242.54 L498.21,242.05 L498.99,241.57 L499.77,241.08 L500.55,240.60 L501.32,240.11 L502.10,239.63 L502.88,239.14 L503.66,238.66 L504.43,238.17 L505.21,237.69 L505.99,237.20 L506.77,236.72 L507.54,236.23 L508.32,235.75 L509.10,235.26 L509.88,234.77 L510.65,234.29 L511.43,233.80 L512.21,233.32 L512.99,232.83 L513.76,232.35 L514.54,231.86 L515.32,231.38 L516.10,230.89 L516.87,230.41 L517.65,229.92 L518.43,229.44 L519.21,228.95 L519.98,228.47 L520.76,227.98 L521.54,227.50 L522.32,227.01 L523.09,226.53 L523.87,226.04 L524.65,225.56 L525.43,225.07 L526.20,224.58 L526.98,224.10 L527.76,223.61 L528.54,223.13 L529.31,222.64 L530.09,222.16 L530.87,221.67 L531.65,221.19 L532.42,220.70 L533.20,220.22 L533.98,219.73 L534.76,219.25 L535.53,218.76 L536.31,218.28 L537.09,217.79 L537.87,217.31 L538.64,216.82 L539.42,216.34 L540.20,215.85 L540.20,215.85" stroke="#727272" stroke-width="1.2"/>
</g>
<g stroke="#000" stroke-width="1.8" fill="none">
<path d="M273,45.6V386.1M442.2,45.6V386.1"/>
<rect x="76.6" y="45.6" width="463.60" height="340.50"/>
<path d="M76.60,374.75h4M540.20,374.75h-4M76.60,363.40h4M540.20,363.40h-4M76.60,352.05h4M540.20,352.05h-4M76.60,340.70h4M540.20,340.70h-4M76.60,329.35h7M540.20,329.35h-7M76.60,318.00h4M540.20,318.00h-4M76.60,306.65h4M540.20,306.65h-4M76.60,295.30h4M540.20,295.30h-4M76.60,283.95h4M540.20,283.95h-4M76.60,272.60h7M540.20,272.60h-7M76.60,261.25h4M540.20,261.25h-4M76.60,249.90h4M540.20,249.90h-4M76.60,238.55h4M540.20,238.55h-4M76.60,227.20h4M540.20,227.20h-4M76.60,215.85h7M540.20,215.85h-7M76.60,204.50h4M540.20,204.50h-4M76.60,193.15h4M540.20,193.15h-4M76.60,181.80h4M540.20,181.80h-4M76.60,170.45h4M540.20,170.45h-4M76.60,159.10h7M540.20,159.10h-7M76.60,147.75h4M540.20,147.75h-4M76.60,136.40h4M540.20,136.40h-4M76.60,125.05h4M540.20,125.05h-4M76.60,113.70h4M540.20,113.70h-4M76.60,102.35h7M540.20,102.35h-7M76.60,91.00h4M540.20,91.00h-4M76.60,79.65h4M540.20,79.65h-4M76.60,68.30h4M540.20,68.30h-4M76.60,56.95h4M540.20,56.95h-4M119.05,45.60v4M119.05,386.10v-4M161.50,45.60v7M161.50,386.10v-7M203.95,45.60v4M203.95,386.10v-4M246.40,45.60v7M246.40,386.10v-7M288.85,45.60v4M288.85,386.10v-4M331.30,45.60v7M331.30,386.10v-7M373.75,45.60v4M373.75,386.10v-4M416.20,45.60v7M416.20,386.10v-7M458.65,45.60v4M458.65,386.10v-4M501.10,45.60v7M501.10,386.10v-7"/>
</g>
<g stroke="#007d00" stroke-width="2" fill="#007d00">
<path d="M268,123V309M438,190V242" fill="none" stroke-width="1.8"/>
<path d="M268,114.6L264.9,124.19999999999999L268,123.5L271.1,124.19999999999999ZM268,318L264.9,308.4L268,309.1L271.1,308.4ZM438,181.4L434.9,191.0L438,190.3L441.1,191.0ZM438,249.6L434.9,240.0L438,240.7L441.1,240.0Z" stroke-width="0.6"/>
</g>
<g font-family="Liberation Sans, Arial, sans-serif" font-weight="bold" font-size="15.5"><text x="67.25" y="389.80" text-anchor="end">-15</text><text x="67.25" y="333.05" text-anchor="end">-10</text><text x="67.25" y="276.30" text-anchor="end">-5</text><text x="67.25" y="219.55" text-anchor="end">0</text><text x="67.25" y="162.80" text-anchor="end">5</text><text x="67.25" y="106.05" text-anchor="end">10</text><text x="67.25" y="49.30" text-anchor="end">15</text></g>
<text transform="translate(20.3,270.8) rotate(-90)" font-family="Liberation Sans, Arial, sans-serif" font-weight="bold" font-size="21.5">energy (eV)</text>
<g font-family="Liberation Sans, Arial, sans-serif" font-weight="bold" font-size="27">
<text x="74.1" y="415.3">K</text>
<text x="432.1" y="415.3">M</text>
<text x="530.9" y="415">K</text>
</g>
<text x="267.8" y="413.6" font-family="Liberation Serif, Times New Roman, serif" font-size="26.5">&#915;</text>
<text x="266.2" y="456.8" font-family="Liberation Sans, Arial, sans-serif" font-weight="bold" font-size="20.5">k space</text>
<g font-family="Noto Serif CJK SC, Liberation Serif, serif" font-size="21.5" font-weight="700">
<text x="123.9" y="138.6">&#960;</text>
<text x="124.6" y="295.4">&#960;</text>
</g>
<text x="137.4" y="136.3" font-family="Liberation Sans, Arial, sans-serif" font-weight="bold" font-size="22">*</text>
<g font-family="Liberation Sans, Arial, sans-serif" fill="#007d00">
<text x="237.2" y="202.2" font-size="15.2" font-weight="bold">6</text>
<text x="246.5" y="203.4" font-family="Noto Sans CJK SC, Liberation Sans, sans-serif" font-weight="500" font-size="13.5">&#947;</text>
<text x="252.5" y="208.9" font-size="10">0</text>
<text x="408.0" y="217.3" font-size="15.2" font-weight="bold">2</text>
<text x="417.5" y="218.4" font-family="Noto Sans CJK SC, Liberation Sans, sans-serif" font-weight="500" font-size="13.5">&#947;</text>
<text x="423.5" y="223.9" font-size="10">0</text>
<text x="91.8" y="366.8" font-family="Noto Sans CJK SC, Liberation Sans, sans-serif" font-weight="500" font-size="13.5">&#947;</text>
<text x="99.2" y="372.6" font-size="9.6">0</text>
<text x="109.2" y="365.9" font-size="15.5" font-weight="bold" letter-spacing="0.42">= -3.013 eV</text>
</g>
<g font-family="Liberation Sans, Arial, sans-serif" font-size="13" letter-spacing="0.33">
<path d="M546,56h32" stroke="#007d00" stroke-width="2"/>
<path d="M546,73h32" stroke="#e81212" stroke-width="2"/>
<path d="M546,92.5h32" stroke="#0000e6" stroke-width="3"/>
<path d="M546,108.5h32" stroke="#727272" stroke-width="1"/>
<text x="580.8" y="60.4" fill="#007d00">nn, s=0, Saito (symmetric)</text>
<text x="580.8" y="77.3" fill="#e81212">nn, s=0.129, Saito parameters</text>
<text x="580.9" y="97.3" fill="#0000e6">3</text>
<text x="589.6" y="90.8" fill="#0000e6" font-size="6.5" letter-spacing="0">rd</text>
<text x="596.2" y="97.3" fill="#0000e6">-nn, Reich parameters</text>
<text x="581.2" y="113.5" fill="#808080">k.p (linear)</text>
</g>
<g font-family="Liberation Sans, Arial, sans-serif" font-weight="bold" font-size="15" letter-spacing="0.78">
<text x="584.6" y="198.9" fill="#007d00">nearest-neighbors</text>
<text x="584.6" y="219.9" fill="#e81212">nearest-neighbors</text>
<text x="552.6" y="240.5" fill="#0000e6">3rd-nearest-neighbors</text>
</g>
</svg>
</body></html>
